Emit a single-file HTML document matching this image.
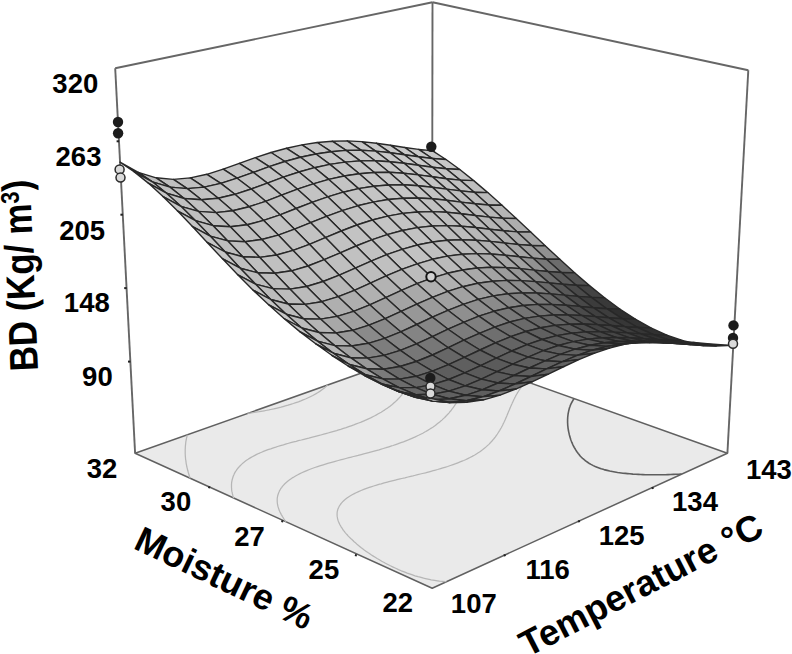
<!DOCTYPE html>
<html><head><meta charset="utf-8"><style>
html,body{margin:0;padding:0;background:#fff;overflow:hidden;}
svg{display:block;}
text{font-family:"Liberation Sans",sans-serif;font-weight:bold;fill:#000;}
</style></head><body>
<svg width="792" height="654" viewBox="0 0 792 654">
<polygon points="432.2,588.2 727.4,453.2 432.0,348.0 135.1,453.3" fill="#eaeaea" stroke="#606060" stroke-width="1.5" stroke-linejoin="round"/>
<polyline points="187.4,434.8 187.1,435.7 186.9,436.7 186.7,437.6 186.4,438.6 186.3,439.5 186.1,440.4 185.9,441.4 185.8,442.3 185.7,443.2 185.6,444.1 185.5,445.0 185.4,446.0 185.3,447.0 185.3,448.1 185.2,449.2 185.2,450.2 185.2,451.3 185.2,452.2 185.2,453.1 185.2,454.0 185.3,454.9 185.3,455.8 185.4,456.9 185.5,458.1 185.6,459.3 185.8,460.2 185.9,461.0 186.0,461.9 186.1,462.8 186.3,464.1 186.6,465.3 186.7,466.2 186.9,467.1 187.1,467.9 187.4,469.0 187.7,470.3 188.0,471.3 188.2,472.2 188.5,473.0 188.8,474.3 189.2,475.5 189.5,476.4 189.8,477.2 190.2,478.4 190.2,478.4" fill="none" stroke="#b6b6b6" stroke-width="1.25" stroke-linejoin="round"/>
<polyline points="327.6,385.0 326.3,386.3 325.6,386.9 324.7,387.7 323.4,388.7 322.6,389.3 321.0,390.5 320.2,391.1 318.4,392.2 317.6,392.8 315.7,393.9 314.2,394.7 312.8,395.5 310.8,396.5 308.7,397.5 307.6,398.0 305.4,399.0 303.1,399.9 300.8,400.9 298.4,401.8 295.9,402.6 293.3,403.5 290.7,404.3 288.0,405.2 285.3,405.9 283.9,406.3 281.1,407.1 278.2,407.8 276.1,408.3 273.7,408.9 270.6,409.5 269.0,409.9 265.8,410.5 264.2,410.8 260.9,411.4 259.2,411.7 255.8,412.2 254.1,412.5 251.5,412.9 248.8,413.2 247.5,413.4" fill="none" stroke="#b6b6b6" stroke-width="1.25" stroke-linejoin="round"/>
<polyline points="413.5,354.5 413.7,355.2 413.8,356.0 413.9,356.7 413.9,357.5 414.0,358.3 414.0,359.1 414.1,359.8 414.1,360.6 414.1,361.4 414.0,362.3 414.0,363.1 413.9,363.9 413.9,364.7 413.8,365.6 413.7,366.4 413.6,367.3 413.4,368.1 413.3,369.0 413.1,369.9 412.9,370.8 412.8,371.6 412.6,372.4 412.4,373.1 412.2,373.9 412.0,374.7 411.8,375.4 411.5,376.2 411.2,377.1 410.9,378.1 410.6,379.0 410.3,379.9 410.0,380.7 409.7,381.4 409.4,382.1 409.0,383.0 408.5,384.0 408.0,385.0 407.6,385.8 407.3,386.5 406.9,387.2 406.4,388.1 405.7,389.2 405.2,390.0 404.8,390.8 404.3,391.5 403.5,392.6 402.8,393.5 402.3,394.2 401.7,395.0 400.7,396.2 400.1,396.9 399.5,397.5 398.3,398.8 397.6,399.5 396.9,400.2 395.7,401.4 395.0,402.1 393.8,403.1 392.8,403.9 391.9,404.7 390.6,405.8 389.8,406.4 388.2,407.6 387.3,408.2 385.6,409.3 384.5,410.1 383.0,411.0 381.2,412.2 380.2,412.7 378.3,413.8 376.4,414.9 375.3,415.5 373.3,416.5 371.2,417.6 369.5,418.4 367.9,419.1 365.7,420.1 363.4,421.1 361.1,422.1 358.7,423.0 356.2,423.9 353.8,424.9 351.2,425.8 348.7,426.7 346.1,427.6 343.4,428.4 340.7,429.3 338.7,429.9 336.6,430.6 333.8,431.4 331.0,432.2 328.1,433.0 326.7,433.4 323.8,434.2 320.8,435.0 319.2,435.4 316.4,436.1 313.4,436.9 311.5,437.4 308.8,438.1 305.8,438.8 304.0,439.3 301.3,440.0 298.3,440.7 296.2,441.3 293.7,441.9 290.7,442.7 287.8,443.5 286.3,443.9 283.4,444.8 280.5,445.6 277.6,446.5 275.8,447.1 273.4,447.8 270.7,448.8 268.0,449.7 265.4,450.7 262.8,451.7 260.3,452.8 259.1,453.3 256.7,454.4 254.4,455.6 252.3,456.7 251.1,457.4 249.1,458.6 248.1,459.3 246.1,460.6 245.2,461.3 243.4,462.7 242.6,463.4 241.3,464.6 240.2,465.7 239.5,466.5 238.5,467.5 237.4,468.8 236.8,469.7 236.2,470.6 235.6,471.4 234.9,472.6 234.3,473.8 233.8,475.0 233.3,476.0 233.0,477.0 232.7,478.0 232.4,479.0 232.1,480.0 231.9,481.1 231.7,482.1 231.6,483.2 231.5,484.3 231.5,485.4 231.5,486.5 231.5,487.4 231.6,488.4 231.6,489.3 231.7,490.3 231.9,491.4 232.2,492.7 232.4,493.9 232.7,494.8 232.9,495.7 233.2,496.7 233.7,498.1 233.7,498.1" fill="none" stroke="#b6b6b6" stroke-width="1.25" stroke-linejoin="round"/>
<polyline points="479.2,364.8 478.3,365.8 477.6,366.6 477.1,367.2 476.4,368.2 475.6,369.1 475.2,369.7 474.6,370.5 473.8,371.6 473.4,372.3 472.9,373.0 472.4,373.8 471.7,374.9 471.3,375.6 470.9,376.3 470.4,377.1 469.8,378.2 469.3,379.0 468.9,379.7 468.5,380.4 468.0,381.4 467.4,382.5 467.0,383.2 466.7,383.9 466.3,384.6 465.7,385.7 465.2,386.7 464.9,387.4 464.5,388.1 464.1,388.9 463.5,390.0 463.0,391.0 462.7,391.7 462.3,392.4 461.8,393.3 461.3,394.4 460.8,395.3 460.4,396.0 460.0,396.7 459.4,397.7 458.8,398.9 458.4,399.6 458.0,400.3 457.4,401.2 456.7,402.3 456.2,403.1 455.8,403.8 455.2,404.7 454.4,405.9 453.9,406.6 453.4,407.3 452.6,408.4 451.8,409.4 451.3,410.1 450.6,411.0 449.6,412.2 449.1,412.8 448.3,413.7 447.2,414.8 446.6,415.5 445.6,416.5 444.7,417.5 444.0,418.1 442.6,419.4 441.9,420.1 440.5,421.3 439.7,422.0 438.3,423.0 437.3,423.8 435.9,424.9 434.9,425.7 433.2,426.9 432.3,427.5 430.5,428.6 429.5,429.3 427.7,430.4 425.8,431.5 424.8,432.0 422.8,433.2 420.7,434.2 418.6,435.3 417.5,435.8 415.3,436.9 413.0,437.9 410.7,438.9 408.3,439.9 405.9,440.8 403.4,441.8 400.9,442.7 398.3,443.7 395.7,444.6 393.0,445.5 391.6,445.9 388.9,446.8 386.1,447.7 383.3,448.5 380.5,449.3 379.0,449.8 376.1,450.6 373.2,451.4 371.4,451.9 368.7,452.6 365.7,453.4 363.7,453.9 361.2,454.6 358.1,455.4 356.3,455.8 353.5,456.5 350.5,457.3 348.9,457.7 345.9,458.5 342.8,459.3 341.3,459.7 338.2,460.5 335.2,461.3 333.5,461.8 330.7,462.6 327.7,463.4 324.8,464.3 323.3,464.8 320.5,465.7 317.6,466.6 314.8,467.5 312.1,468.5 309.4,469.5 306.8,470.6 304.3,471.6 301.8,472.8 299.5,473.9 298.3,474.5 296.0,475.7 293.9,477.0 292.8,477.6 290.8,478.9 289.6,479.8 288.0,481.0 287.1,481.8 285.4,483.3 284.6,484.0 283.6,485.1 282.4,486.4 281.8,487.3 281.1,488.1 280.4,489.3 279.6,490.6 279.1,491.8 278.7,492.7 278.3,493.7 278.0,494.7 277.7,495.7 277.5,496.8 277.3,497.9 277.2,499.0 277.2,500.1 277.2,501.3 277.3,502.5 277.4,503.7 277.6,504.6 277.8,505.6 278.0,506.5 278.3,507.6 278.8,509.0 279.2,510.2 279.6,511.1 280.0,512.0 280.7,513.4 281.3,514.6 281.8,515.4 282.5,516.6 283.4,518.0 283.9,518.8 284.8,520.1 285.7,521.3 286.2,521.9" fill="none" stroke="#b6b6b6" stroke-width="1.25" stroke-linejoin="round"/>
<polyline points="526.2,381.5 525.6,382.1 524.5,383.3 523.9,383.9 523.2,384.8 522.3,385.8 521.8,386.5 521.1,387.4 520.4,388.4 519.9,389.1 519.4,389.8 518.6,391.0 518.1,391.8 517.7,392.4 517.2,393.4 516.5,394.5 516.1,395.2 515.7,395.9 515.3,396.8 514.7,397.9 514.3,398.8 513.9,399.5 513.6,400.2 513.1,401.3 512.6,402.4 512.2,403.1 511.9,403.9 511.6,404.6 511.1,405.7 510.6,406.8 510.3,407.6 510.0,408.3 509.7,409.1 509.2,410.2 508.7,411.3 508.4,412.1 508.1,412.8 507.8,413.6 507.3,414.6 506.9,415.8 506.5,416.6 506.2,417.4 505.8,418.2 505.4,419.2 504.9,420.3 504.5,421.2 504.1,422.0 503.8,422.7 503.2,423.8 502.7,425.0 502.3,425.8 501.9,426.5 501.4,427.5 500.7,428.7 500.2,429.5 499.8,430.3 499.2,431.2 498.4,432.5 497.9,433.2 497.4,434.0 496.6,435.2 495.9,436.2 495.4,436.9 494.5,438.0 493.7,439.0 493.1,439.7 492.0,441.0 491.2,441.8 490.6,442.5 489.3,443.9 488.6,444.6 487.1,445.9 486.4,446.6 485.0,447.8 484.1,448.5 482.5,449.8 481.6,450.4 479.9,451.7 479.0,452.3 477.1,453.5 475.2,454.7 474.2,455.3 472.2,456.4 470.0,457.5 467.8,458.6 465.5,459.7 463.7,460.5 462.0,461.2 459.5,462.2 457.9,462.8 455.7,463.7 453.1,464.6 450.4,465.5 447.7,466.5 444.9,467.3 442.9,467.9 440.6,468.6 437.6,469.5 434.7,470.3 433.2,470.7 430.1,471.6 427.1,472.4 425.5,472.8 422.4,473.5 420.4,474.0 417.7,474.7 414.5,475.5 412.9,475.9 409.7,476.6 408.0,477.0 404.9,477.8 401.8,478.5 400.1,478.9 396.9,479.7 395.3,480.1 392.1,480.9 388.9,481.7 387.4,482.1 384.2,482.9 381.2,483.8 379.6,484.2 376.6,485.1 373.7,486.0 371.1,486.8 369.3,487.4 366.5,488.4 363.8,489.4 361.1,490.5 358.5,491.6 356.1,492.7 354.3,493.6 352.6,494.5 350.4,495.8 348.5,497.0 347.3,497.8 345.4,499.3 344.5,500.0 343.2,501.2 342.1,502.4 341.4,503.2 340.4,504.5 339.5,505.8 339.0,506.7 338.6,507.6 338.1,508.6 337.7,509.8 337.4,511.0 337.2,512.1 337.1,513.3 337.1,514.3 337.1,515.4 337.2,516.4 337.4,517.5 337.6,518.8 338.0,520.2 338.4,521.4 338.8,522.3 339.2,523.2 339.8,524.5 340.6,525.9 341.1,526.8 341.7,527.7 342.8,529.4 343.4,530.3 344.1,531.2 345.4,532.8 346.1,533.6 347.4,535.0 348.3,536.1 349.3,537.1 350.7,538.5 351.6,539.3 353.2,540.8 354.1,541.7 355.8,543.1 357.0,544.2 358.5,545.4 360.3,546.9 361.3,547.7 363.3,549.2 364.2,549.9 366.3,551.4 368.3,552.8 369.4,553.5 371.5,555.0 373.7,556.4 375.2,557.3 377.1,558.5 379.4,559.8 381.7,561.2 384.2,562.5 385.4,563.2 387.9,564.5 390.4,565.8 393.1,567.1 395.7,568.3 398.5,569.6 401.3,570.8 404.2,571.9 407.2,573.1 408.7,573.6 411.8,574.7 415.0,575.8 418.0,576.7 420.1,577.2 423.6,578.2 425.4,578.6 429.2,579.4 431.1,579.8 434.7,580.4 437.3,580.8 439.5,581.1 442.5,581.4 445.9,581.7 446.4,581.7" fill="none" stroke="#b6b6b6" stroke-width="1.25" stroke-linejoin="round"/>
<polyline points="574.1,398.6 573.4,399.5 572.8,400.6 572.4,401.3 572.0,402.0 571.4,403.1 570.9,404.1 570.6,404.8 570.3,405.6 570.0,406.5 569.6,407.6 569.3,408.6 569.1,409.3 568.9,410.1 568.7,410.9 568.5,411.9 568.3,412.9 568.1,414.0 568.0,414.9 567.9,415.7 567.8,416.5 567.7,417.4 567.7,418.2 567.6,419.1 567.6,420.0 567.6,421.0 567.6,421.9 567.6,422.9 567.7,423.9 567.7,424.8 567.8,425.8 567.9,426.7 568.0,427.7 568.1,428.6 568.3,429.5 568.4,430.5 568.6,431.4 568.8,432.3 569.0,433.2 569.2,434.1 569.4,435.0 569.7,436.0 569.9,436.9 570.2,437.7 570.5,438.7 570.8,439.7 571.2,440.8 571.6,441.8 572.1,442.9 572.5,443.9 572.9,444.8 573.3,445.6 573.7,446.5 574.2,447.4 574.9,448.5 575.6,449.7 576.2,450.6 576.7,451.5 577.3,452.3 578.2,453.5 579.1,454.6 579.7,455.4 580.4,456.2 581.9,457.7 582.6,458.4 583.6,459.2 585.1,460.5 586.0,461.2 587.9,462.5 588.9,463.2 591.0,464.4 593.3,465.6 595.2,466.5 597.0,467.2 599.7,468.2 601.2,468.8 604.0,469.6 607.2,470.4 609.7,471.0 612.2,471.5 614.9,472.0 617.6,472.5 619.5,472.7 622.9,473.2 625.4,473.4 627.5,473.6 629.8,473.8 632.9,474.1 635.9,474.3 638.3,474.4 640.6,474.5 642.9,474.6 645.3,474.7 647.7,474.7 650.1,474.7 652.6,474.8 655.1,474.8 657.6,474.8 660.1,474.8 662.7,474.7 665.3,474.7 668.0,474.6 670.6,474.5 673.4,474.4 676.1,474.3 678.6,474.2 680.8,474.1 681.6,474.1" fill="none" stroke="#5e5e5e" stroke-width="1.6" stroke-linejoin="round"/>
<line x1="432.0" y1="348.0" x2="432.5" y2="2.3" stroke="#666666" stroke-width="1.9"/>
<line x1="115.2" y1="68.2" x2="432.5" y2="2.3" stroke="#666666" stroke-width="1.9"/>
<line x1="748.3" y1="70.3" x2="432.5" y2="2.3" stroke="#666666" stroke-width="1.9"/>
<line x1="135.1" y1="453.3" x2="115.2" y2="68.2" stroke="#666666" stroke-width="1.9"/>
<line x1="727.4" y1="453.2" x2="748.3" y2="70.3" stroke="#666666" stroke-width="1.9"/>
<line x1="116.6" y1="141.3" x2="119.1" y2="141.3" stroke="#222" stroke-width="2"/>
<line x1="120.4" y1="214.7" x2="122.9" y2="214.7" stroke="#222" stroke-width="2"/>
<line x1="124.2" y1="288.1" x2="126.7" y2="288.1" stroke="#222" stroke-width="2"/>
<line x1="128.0" y1="361.6" x2="130.5" y2="361.6" stroke="#222" stroke-width="2"/>
<line x1="209.5" y1="486.2" x2="208.9" y2="488.2" stroke="#222" stroke-width="2"/>
<line x1="282.6" y1="520.2" x2="282.0" y2="522.2" stroke="#222" stroke-width="2"/>
<line x1="356.2" y1="554.3" x2="355.6" y2="556.3" stroke="#222" stroke-width="2"/>
<line x1="504.4" y1="554.3" x2="505.0" y2="556.3" stroke="#222" stroke-width="2"/>
<line x1="578.7" y1="520.2" x2="579.3" y2="522.2" stroke="#222" stroke-width="2"/>
<line x1="652.3" y1="487.0" x2="652.9" y2="489.0" stroke="#222" stroke-width="2"/>
<circle cx="431.5" cy="155.4" r="4.5" fill="#d4d4d4" stroke="#1c1c1c" stroke-width="1.6"/>
<polygon points="432.3,158.5 446.0,159.5 432.3,150.7 418.6,149.4" fill="rgb(200,200,200)" stroke="#282828" stroke-width="1.4" stroke-linejoin="round"/>
<polygon points="446.1,168.8 459.8,169.5 446.0,159.5 432.3,158.5" fill="rgb(198,198,198)" stroke="#282828" stroke-width="1.4" stroke-linejoin="round"/>
<polygon points="418.4,156.8 432.3,158.5 418.6,149.4 404.7,147.5" fill="rgb(201,201,201)" stroke="#282828" stroke-width="1.4" stroke-linejoin="round"/>
<polygon points="460.1,180.1 473.7,180.6 459.8,169.5 446.1,168.8" fill="rgb(195,195,195)" stroke="#282828" stroke-width="1.4" stroke-linejoin="round"/>
<polygon points="432.3,167.2 446.1,168.8 432.3,158.5 418.4,156.8" fill="rgb(199,199,199)" stroke="#282828" stroke-width="1.4" stroke-linejoin="round"/>
<polygon points="474.2,192.2 487.8,192.6 473.7,180.6 460.1,180.1" fill="rgb(191,191,191)" stroke="#282828" stroke-width="1.4" stroke-linejoin="round"/>
<polygon points="404.3,154.7 418.4,156.8 404.7,147.5 390.6,145.3" fill="rgb(201,201,201)" stroke="#282828" stroke-width="1.4" stroke-linejoin="round"/>
<polygon points="446.3,178.7 460.1,180.1 446.1,168.8 432.3,167.2" fill="rgb(196,196,196)" stroke="#282828" stroke-width="1.4" stroke-linejoin="round"/>
<polygon points="488.4,205.0 502.0,205.3 487.8,192.6 474.2,192.2" fill="rgb(186,186,186)" stroke="#282828" stroke-width="1.4" stroke-linejoin="round"/>
<polygon points="418.3,165.3 432.3,167.2 418.4,156.8 404.3,154.7" fill="rgb(200,200,200)" stroke="#282828" stroke-width="1.4" stroke-linejoin="round"/>
<polygon points="460.4,190.9 474.2,192.2 460.1,180.1 446.3,178.7" fill="rgb(193,193,193)" stroke="#282828" stroke-width="1.4" stroke-linejoin="round"/>
<polygon points="390.1,152.7 404.3,154.7 390.6,145.3 376.3,143.2" fill="rgb(201,201,201)" stroke="#282828" stroke-width="1.4" stroke-linejoin="round"/>
<polygon points="502.7,218.3 516.3,218.5 502.0,205.3 488.4,205.0" fill="rgb(181,181,181)" stroke="#282828" stroke-width="1.4" stroke-linejoin="round"/>
<polygon points="432.3,176.8 446.3,178.7 432.3,167.2 418.3,165.3" fill="rgb(197,197,197)" stroke="#282828" stroke-width="1.4" stroke-linejoin="round"/>
<polygon points="474.7,203.8 488.4,205.0 474.2,192.2 460.4,190.9" fill="rgb(188,188,188)" stroke="#282828" stroke-width="1.4" stroke-linejoin="round"/>
<polygon points="404.0,163.3 418.3,165.3 404.3,154.7 390.1,152.7" fill="rgb(201,201,201)" stroke="#282828" stroke-width="1.4" stroke-linejoin="round"/>
<polygon points="517.2,231.9 530.7,232.0 516.3,218.5 502.7,218.3" fill="rgb(173,173,173)" stroke="#282828" stroke-width="1.4" stroke-linejoin="round"/>
<polygon points="446.5,189.1 460.4,190.9 446.3,178.7 432.3,176.8" fill="rgb(194,194,194)" stroke="#282828" stroke-width="1.4" stroke-linejoin="round"/>
<polygon points="375.6,151.1 390.1,152.7 376.3,143.2 361.8,141.6" fill="rgb(200,200,200)" stroke="#282828" stroke-width="1.4" stroke-linejoin="round"/>
<polygon points="489.1,217.1 502.7,218.3 488.4,205.0 474.7,203.8" fill="rgb(183,183,183)" stroke="#282828" stroke-width="1.4" stroke-linejoin="round"/>
<polygon points="418.1,174.9 432.3,176.8 418.3,165.3 404.0,163.3" fill="rgb(199,199,199)" stroke="#282828" stroke-width="1.4" stroke-linejoin="round"/>
<polygon points="531.7,245.5 545.2,245.7 530.7,232.0 517.2,231.9" fill="rgb(165,165,165)" stroke="#282828" stroke-width="1.4" stroke-linejoin="round"/>
<polygon points="460.8,202.1 474.7,203.8 460.4,190.9 446.5,189.1" fill="rgb(190,190,190)" stroke="#282828" stroke-width="1.4" stroke-linejoin="round"/>
<polygon points="389.6,161.7 404.0,163.3 390.1,152.7 375.6,151.1" fill="rgb(200,200,200)" stroke="#282828" stroke-width="1.4" stroke-linejoin="round"/>
<polygon points="503.5,230.8 517.2,231.9 502.7,218.3 489.1,217.1" fill="rgb(177,177,177)" stroke="#282828" stroke-width="1.4" stroke-linejoin="round"/>
<polygon points="432.3,187.2 446.5,189.1 432.3,176.8 418.1,174.9" fill="rgb(196,196,196)" stroke="#282828" stroke-width="1.4" stroke-linejoin="round"/>
<polygon points="546.4,259.2 559.8,259.3 545.2,245.7 531.7,245.5" fill="rgb(145,145,145)" stroke="#282828" stroke-width="1.4" stroke-linejoin="round"/>
<polygon points="361.0,150.2 375.6,151.1 361.8,141.6 347.1,140.9" fill="rgb(199,199,199)" stroke="#282828" stroke-width="1.4" stroke-linejoin="round"/>
<polygon points="475.2,215.5 489.1,217.1 474.7,203.8 460.8,202.1" fill="rgb(186,186,186)" stroke="#282828" stroke-width="1.4" stroke-linejoin="round"/>
<polygon points="403.7,173.2 418.1,174.9 404.0,163.3 389.6,161.7" fill="rgb(200,200,200)" stroke="#282828" stroke-width="1.4" stroke-linejoin="round"/>
<polygon points="518.1,244.5 531.7,245.5 517.2,231.9 503.5,230.8" fill="rgb(169,169,169)" stroke="#282828" stroke-width="1.4" stroke-linejoin="round"/>
<polygon points="446.7,200.3 460.8,202.1 446.5,189.1 432.3,187.2" fill="rgb(193,193,193)" stroke="#282828" stroke-width="1.4" stroke-linejoin="round"/>
<polygon points="561.3,272.5 574.6,272.7 559.8,259.3 546.4,259.2" fill="rgb(108,108,108)" stroke="#282828" stroke-width="1.4" stroke-linejoin="round"/>
<polygon points="375.0,160.8 389.6,161.7 375.6,151.1 361.0,150.2" fill="rgb(200,200,200)" stroke="#282828" stroke-width="1.4" stroke-linejoin="round"/>
<polygon points="489.7,229.2 503.5,230.8 489.1,217.1 475.2,215.5" fill="rgb(181,181,181)" stroke="#282828" stroke-width="1.4" stroke-linejoin="round"/>
<polygon points="346.1,150.4 361.0,150.2 347.1,140.9 332.2,141.2" fill="rgb(198,198,198)" stroke="#282828" stroke-width="1.4" stroke-linejoin="round"/>
<polygon points="418.0,185.7 432.3,187.2 418.1,174.9 403.7,173.2" fill="rgb(197,197,197)" stroke="#282828" stroke-width="1.4" stroke-linejoin="round"/>
<polygon points="532.9,258.1 546.4,259.2 531.7,245.5 518.1,244.5" fill="rgb(156,156,156)" stroke="#282828" stroke-width="1.4" stroke-linejoin="round"/>
<polygon points="461.1,213.8 475.2,215.5 460.8,202.1 446.7,200.3" fill="rgb(189,189,189)" stroke="#282828" stroke-width="1.4" stroke-linejoin="round"/>
<polygon points="576.2,285.3 589.5,285.6 574.6,272.7 561.3,272.5" fill="rgb(84,84,84)" stroke="#282828" stroke-width="1.4" stroke-linejoin="round"/>
<polygon points="389.1,172.3 403.7,173.2 389.6,161.7 375.0,160.8" fill="rgb(199,199,199)" stroke="#282828" stroke-width="1.4" stroke-linejoin="round"/>
<polygon points="504.4,243.0 518.1,244.5 503.5,230.8 489.7,229.2" fill="rgb(174,174,174)" stroke="#282828" stroke-width="1.4" stroke-linejoin="round"/>
<polygon points="547.8,271.5 561.3,272.5 546.4,259.2 532.9,258.1" fill="rgb(121,121,121)" stroke="#282828" stroke-width="1.4" stroke-linejoin="round"/>
<polygon points="432.3,198.7 446.7,200.3 432.3,187.2 418.0,185.7" fill="rgb(194,194,194)" stroke="#282828" stroke-width="1.4" stroke-linejoin="round"/>
<polygon points="360.2,160.9 375.0,160.8 361.0,150.2 346.1,150.4" fill="rgb(198,198,198)" stroke="#282828" stroke-width="1.4" stroke-linejoin="round"/>
<polygon points="475.7,227.5 489.7,229.2 475.2,215.5 461.1,213.8" fill="rgb(185,185,185)" stroke="#282828" stroke-width="1.4" stroke-linejoin="round"/>
<polygon points="591.4,297.4 604.6,297.7 589.5,285.6 576.2,285.3" fill="rgb(67,67,67)" stroke="#282828" stroke-width="1.4" stroke-linejoin="round"/>
<polygon points="331.1,151.7 346.1,150.4 332.2,141.2 317.2,142.5" fill="rgb(197,197,197)" stroke="#282828" stroke-width="1.4" stroke-linejoin="round"/>
<polygon points="403.4,184.8 418.0,185.7 403.7,173.2 389.1,172.3" fill="rgb(198,198,198)" stroke="#282828" stroke-width="1.4" stroke-linejoin="round"/>
<polygon points="519.1,256.7 532.9,258.1 518.1,244.5 504.4,243.0" fill="rgb(166,166,166)" stroke="#282828" stroke-width="1.4" stroke-linejoin="round"/>
<polygon points="446.8,212.3 461.1,213.8 446.7,200.3 432.3,198.7" fill="rgb(191,191,191)" stroke="#282828" stroke-width="1.4" stroke-linejoin="round"/>
<polygon points="562.8,284.3 576.2,285.3 561.3,272.5 547.8,271.5" fill="rgb(92,92,92)" stroke="#282828" stroke-width="1.4" stroke-linejoin="round"/>
<polygon points="374.3,172.5 389.1,172.3 375.0,160.8 360.2,160.9" fill="rgb(199,199,199)" stroke="#282828" stroke-width="1.4" stroke-linejoin="round"/>
<polygon points="490.4,241.4 504.4,243.0 489.7,229.2 475.7,227.5" fill="rgb(179,179,179)" stroke="#282828" stroke-width="1.4" stroke-linejoin="round"/>
<polygon points="606.7,308.7 619.8,309.0 604.6,297.7 591.4,297.4" fill="rgb(57,57,57)" stroke="#282828" stroke-width="1.4" stroke-linejoin="round"/>
<polygon points="417.8,198.0 432.3,198.7 418.0,185.7 403.4,184.8" fill="rgb(196,196,196)" stroke="#282828" stroke-width="1.4" stroke-linejoin="round"/>
<polygon points="345.1,162.1 360.2,160.9 346.1,150.4 331.1,151.7" fill="rgb(197,197,197)" stroke="#282828" stroke-width="1.4" stroke-linejoin="round"/>
<polygon points="534.1,270.1 547.8,271.5 532.9,258.1 519.1,256.7" fill="rgb(146,146,146)" stroke="#282828" stroke-width="1.4" stroke-linejoin="round"/>
<polygon points="461.4,226.2 475.7,227.5 461.1,213.8 446.8,212.3" fill="rgb(188,188,188)" stroke="#282828" stroke-width="1.4" stroke-linejoin="round"/>
<polygon points="315.9,154.0 331.1,151.7 317.2,142.5 302.0,144.9" fill="rgb(197,197,197)" stroke="#282828" stroke-width="1.4" stroke-linejoin="round"/>
<polygon points="577.9,296.4 591.4,297.4 576.2,285.3 562.8,284.3" fill="rgb(74,74,74)" stroke="#282828" stroke-width="1.4" stroke-linejoin="round"/>
<polygon points="388.6,185.0 403.4,184.8 389.1,172.3 374.3,172.5" fill="rgb(198,198,198)" stroke="#282828" stroke-width="1.4" stroke-linejoin="round"/>
<polygon points="505.2,255.2 519.1,256.7 504.4,243.0 490.4,241.4" fill="rgb(172,172,172)" stroke="#282828" stroke-width="1.4" stroke-linejoin="round"/>
<polygon points="622.1,318.7 635.3,319.1 619.8,309.0 606.7,308.7" fill="rgb(47,47,47)" stroke="#282828" stroke-width="1.4" stroke-linejoin="round"/>
<polygon points="432.3,211.6 446.8,212.3 432.3,198.7 417.8,198.0" fill="rgb(193,193,193)" stroke="#282828" stroke-width="1.4" stroke-linejoin="round"/>
<polygon points="549.1,282.9 562.8,284.3 547.8,271.5 534.1,270.1" fill="rgb(111,111,111)" stroke="#282828" stroke-width="1.4" stroke-linejoin="round"/>
<polygon points="359.3,173.7 374.3,172.5 360.2,160.9 345.1,162.1" fill="rgb(197,197,197)" stroke="#282828" stroke-width="1.4" stroke-linejoin="round"/>
<polygon points="476.2,240.2 490.4,241.4 475.7,227.5 461.4,226.2" fill="rgb(183,183,183)" stroke="#282828" stroke-width="1.4" stroke-linejoin="round"/>
<polygon points="593.3,307.7 606.7,308.7 591.4,297.4 577.9,296.4" fill="rgb(60,60,60)" stroke="#282828" stroke-width="1.4" stroke-linejoin="round"/>
<polygon points="329.9,164.4 345.1,162.1 331.1,151.7 315.9,154.0" fill="rgb(197,197,197)" stroke="#282828" stroke-width="1.4" stroke-linejoin="round"/>
<polygon points="403.1,198.2 417.8,198.0 403.4,184.8 388.6,185.0" fill="rgb(197,197,197)" stroke="#282828" stroke-width="1.4" stroke-linejoin="round"/>
<polygon points="520.2,268.6 534.1,270.1 519.1,256.7 505.2,255.2" fill="rgb(161,161,161)" stroke="#282828" stroke-width="1.4" stroke-linejoin="round"/>
<polygon points="300.5,157.3 315.9,154.0 302.0,144.9 286.6,148.3" fill="rgb(197,197,197)" stroke="#282828" stroke-width="1.4" stroke-linejoin="round"/>
<polygon points="447.0,225.6 461.4,226.2 446.8,212.3 432.3,211.6" fill="rgb(190,190,190)" stroke="#282828" stroke-width="1.4" stroke-linejoin="round"/>
<polygon points="564.4,295.1 577.9,296.4 562.8,284.3 549.1,282.9" fill="rgb(88,88,88)" stroke="#282828" stroke-width="1.4" stroke-linejoin="round"/>
<polygon points="373.7,186.2 388.6,185.0 374.3,172.5 359.3,173.7" fill="rgb(198,198,198)" stroke="#282828" stroke-width="1.4" stroke-linejoin="round"/>
<polygon points="637.8,327.5 650.9,327.9 635.3,319.1 622.1,318.7" fill="rgb(51,51,51)" stroke="#282828" stroke-width="1.4" stroke-linejoin="round"/>
<polygon points="491.1,254.0 505.2,255.2 490.4,241.4 476.2,240.2" fill="rgb(177,177,177)" stroke="#282828" stroke-width="1.4" stroke-linejoin="round"/>
<polygon points="344.2,176.0 359.3,173.7 345.1,162.1 329.9,164.4" fill="rgb(196,196,196)" stroke="#282828" stroke-width="1.4" stroke-linejoin="round"/>
<polygon points="417.7,212.0 432.3,211.6 417.8,198.0 403.1,198.2" fill="rgb(195,195,195)" stroke="#282828" stroke-width="1.4" stroke-linejoin="round"/>
<polygon points="608.8,317.8 622.1,318.7 606.7,308.7 593.3,307.7" fill="rgb(61,61,61)" stroke="#282828" stroke-width="1.4" stroke-linejoin="round"/>
<polygon points="535.3,281.6 549.1,282.9 534.1,270.1 520.2,268.6" fill="rgb(136,136,136)" stroke="#282828" stroke-width="1.4" stroke-linejoin="round"/>
<polygon points="461.8,239.7 476.2,240.2 461.4,226.2 447.0,225.6" fill="rgb(187,187,187)" stroke="#282828" stroke-width="1.4" stroke-linejoin="round"/>
<polygon points="314.6,167.7 329.9,164.4 315.9,154.0 300.5,157.3" fill="rgb(196,196,196)" stroke="#282828" stroke-width="1.4" stroke-linejoin="round"/>
<polygon points="388.2,199.5 403.1,198.2 388.6,185.0 373.7,186.2" fill="rgb(197,197,197)" stroke="#282828" stroke-width="1.4" stroke-linejoin="round"/>
<polygon points="579.8,306.4 593.3,307.7 577.9,296.4 564.4,295.1" fill="rgb(72,72,72)" stroke="#282828" stroke-width="1.4" stroke-linejoin="round"/>
<polygon points="284.9,161.5 300.5,157.3 286.6,148.3 271.0,152.5" fill="rgb(196,196,196)" stroke="#282828" stroke-width="1.4" stroke-linejoin="round"/>
<polygon points="506.1,267.6 520.2,268.6 505.2,255.2 491.1,254.0" fill="rgb(166,166,166)" stroke="#282828" stroke-width="1.4" stroke-linejoin="round"/>
<polygon points="653.8,334.8 666.8,335.1 650.9,327.9 637.8,327.5" fill="rgb(49,49,49)" stroke="#282828" stroke-width="1.4" stroke-linejoin="round"/>
<polygon points="432.3,226.0 447.0,225.6 432.3,211.6 417.7,212.0" fill="rgb(192,192,192)" stroke="#282828" stroke-width="1.4" stroke-linejoin="round"/>
<polygon points="358.5,188.6 373.7,186.2 359.3,173.7 344.2,176.0" fill="rgb(197,197,197)" stroke="#282828" stroke-width="1.4" stroke-linejoin="round"/>
<polygon points="550.6,293.9 564.4,295.1 549.1,282.9 535.3,281.6" fill="rgb(107,107,107)" stroke="#282828" stroke-width="1.4" stroke-linejoin="round"/>
<polygon points="624.6,326.6 637.8,327.5 622.1,318.7 608.8,317.8" fill="rgb(55,55,55)" stroke="#282828" stroke-width="1.4" stroke-linejoin="round"/>
<polygon points="476.7,253.6 491.1,254.0 476.2,240.2 461.8,239.7" fill="rgb(181,181,181)" stroke="#282828" stroke-width="1.4" stroke-linejoin="round"/>
<polygon points="328.8,179.4 344.2,176.0 329.9,164.4 314.6,167.7" fill="rgb(196,196,196)" stroke="#282828" stroke-width="1.4" stroke-linejoin="round"/>
<polygon points="402.8,213.4 417.7,212.0 403.1,198.2 388.2,199.5" fill="rgb(195,195,195)" stroke="#282828" stroke-width="1.4" stroke-linejoin="round"/>
<polygon points="595.3,316.6 608.8,317.8 593.3,307.7 579.8,306.4" fill="rgb(64,64,64)" stroke="#282828" stroke-width="1.4" stroke-linejoin="round"/>
<polygon points="521.2,280.6 535.3,281.6 520.2,268.6 506.1,267.6" fill="rgb(152,152,152)" stroke="#282828" stroke-width="1.4" stroke-linejoin="round"/>
<polygon points="299.0,172.0 314.6,167.7 300.5,157.3 284.9,161.5" fill="rgb(196,196,196)" stroke="#282828" stroke-width="1.4" stroke-linejoin="round"/>
<polygon points="447.2,240.2 461.8,239.7 447.0,225.6 432.3,226.0" fill="rgb(190,190,190)" stroke="#282828" stroke-width="1.4" stroke-linejoin="round"/>
<polygon points="269.2,166.6 284.9,161.5 271.0,152.5 255.3,157.6" fill="rgb(196,196,196)" stroke="#282828" stroke-width="1.4" stroke-linejoin="round"/>
<polygon points="373.0,202.1 388.2,199.5 373.7,186.2 358.5,188.6" fill="rgb(196,196,196)" stroke="#282828" stroke-width="1.4" stroke-linejoin="round"/>
<polygon points="670.0,340.3 683.0,340.7 666.8,335.1 653.8,334.8" fill="rgb(47,47,47)" stroke="#282828" stroke-width="1.4" stroke-linejoin="round"/>
<polygon points="566.0,305.2 579.8,306.4 564.4,295.1 550.6,293.9" fill="rgb(89,89,89)" stroke="#282828" stroke-width="1.4" stroke-linejoin="round"/>
<polygon points="491.8,267.3 506.1,267.6 491.1,254.0 476.7,253.6" fill="rgb(172,172,172)" stroke="#282828" stroke-width="1.4" stroke-linejoin="round"/>
<polygon points="640.6,333.9 653.8,334.8 637.8,327.5 624.6,326.6" fill="rgb(54,54,54)" stroke="#282828" stroke-width="1.4" stroke-linejoin="round"/>
<polygon points="343.2,192.2 358.5,188.6 344.2,176.0 328.8,179.4" fill="rgb(196,196,196)" stroke="#282828" stroke-width="1.4" stroke-linejoin="round"/>
<polygon points="417.5,227.6 432.3,226.0 417.7,212.0 402.8,213.4" fill="rgb(194,194,194)" stroke="#282828" stroke-width="1.4" stroke-linejoin="round"/>
<polygon points="536.6,293.0 550.6,293.9 535.3,281.6 521.2,280.6" fill="rgb(128,128,128)" stroke="#282828" stroke-width="1.4" stroke-linejoin="round"/>
<polygon points="611.1,325.5 624.6,326.6 608.8,317.8 595.3,316.6" fill="rgb(61,61,61)" stroke="#282828" stroke-width="1.4" stroke-linejoin="round"/>
<polygon points="313.3,183.8 328.8,179.4 314.6,167.7 299.0,172.0" fill="rgb(195,195,195)" stroke="#282828" stroke-width="1.4" stroke-linejoin="round"/>
<polygon points="462.1,254.3 476.7,253.6 461.8,239.7 447.2,240.2" fill="rgb(186,186,186)" stroke="#282828" stroke-width="1.4" stroke-linejoin="round"/>
<polygon points="387.7,216.1 402.8,213.4 388.2,199.5 373.0,202.1" fill="rgb(196,196,196)" stroke="#282828" stroke-width="1.4" stroke-linejoin="round"/>
<polygon points="283.3,177.2 299.0,172.0 284.9,161.5 269.2,166.6" fill="rgb(196,196,196)" stroke="#282828" stroke-width="1.4" stroke-linejoin="round"/>
<polygon points="581.6,315.5 595.3,316.6 579.8,306.4 566.0,305.2" fill="rgb(74,74,74)" stroke="#282828" stroke-width="1.4" stroke-linejoin="round"/>
<polygon points="507.0,280.4 521.2,280.6 506.1,267.6 491.8,267.3" fill="rgb(157,157,157)" stroke="#282828" stroke-width="1.4" stroke-linejoin="round"/>
<polygon points="253.3,172.4 269.2,166.6 255.3,157.6 239.3,163.3" fill="rgb(196,196,196)" stroke="#282828" stroke-width="1.4" stroke-linejoin="round"/>
<polygon points="686.5,343.9 699.4,344.4 683.0,340.7 670.0,340.3" fill="rgb(43,43,43)" stroke="#282828" stroke-width="1.4" stroke-linejoin="round"/>
<polygon points="432.4,242.0 447.2,240.2 432.3,226.0 417.5,227.6" fill="rgb(192,192,192)" stroke="#282828" stroke-width="1.4" stroke-linejoin="round"/>
<polygon points="357.7,205.8 373.0,202.1 358.5,188.6 343.2,192.2" fill="rgb(196,196,196)" stroke="#282828" stroke-width="1.4" stroke-linejoin="round"/>
<polygon points="656.8,339.5 670.0,340.3 653.8,334.8 640.6,333.9" fill="rgb(50,50,50)" stroke="#282828" stroke-width="1.4" stroke-linejoin="round"/>
<polygon points="552.0,304.5 566.0,305.2 550.6,293.9 536.6,293.0" fill="rgb(106,106,106)" stroke="#282828" stroke-width="1.4" stroke-linejoin="round"/>
<polygon points="327.7,196.8 343.2,192.2 328.8,179.4 313.3,183.8" fill="rgb(195,195,195)" stroke="#282828" stroke-width="1.4" stroke-linejoin="round"/>
<polygon points="477.2,268.0 491.8,267.3 476.7,253.6 462.1,254.3" fill="rgb(177,177,177)" stroke="#282828" stroke-width="1.4" stroke-linejoin="round"/>
<polygon points="402.4,230.5 417.5,227.6 402.8,213.4 387.7,216.1" fill="rgb(195,195,195)" stroke="#282828" stroke-width="1.4" stroke-linejoin="round"/>
<polygon points="627.1,332.9 640.6,333.9 624.6,326.6 611.1,325.5" fill="rgb(61,61,61)" stroke="#282828" stroke-width="1.4" stroke-linejoin="round"/>
<polygon points="297.5,189.2 313.3,183.8 299.0,172.0 283.3,177.2" fill="rgb(195,195,195)" stroke="#282828" stroke-width="1.4" stroke-linejoin="round"/>
<polygon points="522.3,292.9 536.6,293.0 521.2,280.6 507.0,280.4" fill="rgb(140,140,140)" stroke="#282828" stroke-width="1.4" stroke-linejoin="round"/>
<polygon points="447.4,256.1 462.1,254.3 447.2,240.2 432.4,242.0" fill="rgb(189,189,189)" stroke="#282828" stroke-width="1.4" stroke-linejoin="round"/>
<polygon points="372.4,220.0 387.7,216.1 373.0,202.1 357.7,205.8" fill="rgb(196,196,196)" stroke="#282828" stroke-width="1.4" stroke-linejoin="round"/>
<polygon points="597.5,324.6 611.1,325.5 595.3,316.6 581.6,315.5" fill="rgb(65,65,65)" stroke="#282828" stroke-width="1.4" stroke-linejoin="round"/>
<polygon points="267.4,183.1 283.3,177.2 269.2,166.6 253.3,172.4" fill="rgb(195,195,195)" stroke="#282828" stroke-width="1.4" stroke-linejoin="round"/>
<polygon points="237.1,178.2 253.3,172.4 239.3,163.3 223.2,169.2" fill="rgb(195,195,195)" stroke="#282828" stroke-width="1.4" stroke-linejoin="round"/>
<polygon points="703.2,345.5 716.2,346.0 699.4,344.4 686.5,343.9" fill="rgb(39,39,39)" stroke="#282828" stroke-width="1.4" stroke-linejoin="round"/>
<polygon points="342.2,210.6 357.7,205.8 343.2,192.2 327.7,196.8" fill="rgb(195,195,195)" stroke="#282828" stroke-width="1.4" stroke-linejoin="round"/>
<polygon points="492.5,281.2 507.0,280.4 491.8,267.3 477.2,268.0" fill="rgb(163,163,163)" stroke="#282828" stroke-width="1.4" stroke-linejoin="round"/>
<polygon points="567.7,314.9 581.6,315.5 566.0,305.2 552.0,304.5" fill="rgb(90,90,90)" stroke="#282828" stroke-width="1.4" stroke-linejoin="round"/>
<polygon points="417.3,245.0 432.4,242.0 417.5,227.6 402.4,230.5" fill="rgb(194,194,194)" stroke="#282828" stroke-width="1.4" stroke-linejoin="round"/>
<polygon points="673.3,343.1 686.5,343.9 670.0,340.3 656.8,339.5" fill="rgb(47,47,47)" stroke="#282828" stroke-width="1.4" stroke-linejoin="round"/>
<polygon points="312.0,202.3 327.7,196.8 313.3,183.8 297.5,189.2" fill="rgb(195,195,195)" stroke="#282828" stroke-width="1.4" stroke-linejoin="round"/>
<polygon points="643.4,338.6 656.8,339.5 640.6,333.9 627.1,332.9" fill="rgb(56,56,56)" stroke="#282828" stroke-width="1.4" stroke-linejoin="round"/>
<polygon points="462.5,270.0 477.2,268.0 462.1,254.3 447.4,256.1" fill="rgb(182,182,182)" stroke="#282828" stroke-width="1.4" stroke-linejoin="round"/>
<polygon points="387.2,234.6 402.4,230.5 387.7,216.1 372.4,220.0" fill="rgb(196,196,196)" stroke="#282828" stroke-width="1.4" stroke-linejoin="round"/>
<polygon points="537.9,304.4 552.0,304.5 536.6,293.0 522.3,292.9" fill="rgb(120,120,120)" stroke="#282828" stroke-width="1.4" stroke-linejoin="round"/>
<polygon points="281.6,195.2 297.5,189.2 283.3,177.2 267.4,183.1" fill="rgb(195,195,195)" stroke="#282828" stroke-width="1.4" stroke-linejoin="round"/>
<polygon points="613.5,332.1 627.1,332.9 611.1,325.5 597.5,324.6" fill="rgb(65,65,65)" stroke="#282828" stroke-width="1.4" stroke-linejoin="round"/>
<polygon points="251.3,189.0 267.4,183.1 253.3,172.4 237.1,178.2" fill="rgb(195,195,195)" stroke="#282828" stroke-width="1.4" stroke-linejoin="round"/>
<polygon points="356.9,225.0 372.4,220.0 357.7,205.8 342.2,210.6" fill="rgb(195,195,195)" stroke="#282828" stroke-width="1.4" stroke-linejoin="round"/>
<polygon points="432.4,259.3 447.4,256.1 432.4,242.0 417.3,245.0" fill="rgb(192,192,192)" stroke="#282828" stroke-width="1.4" stroke-linejoin="round"/>
<polygon points="507.9,293.8 522.3,292.9 507.0,280.4 492.5,281.2" fill="rgb(145,145,145)" stroke="#282828" stroke-width="1.4" stroke-linejoin="round"/>
<polygon points="220.8,183.4 237.1,178.2 223.2,169.2 206.9,174.3" fill="rgb(194,194,194)" stroke="#282828" stroke-width="1.4" stroke-linejoin="round"/>
<polygon points="583.6,324.0 597.5,324.6 581.6,315.5 567.7,314.9" fill="rgb(76,76,76)" stroke="#282828" stroke-width="1.4" stroke-linejoin="round"/>
<polygon points="326.5,216.3 342.2,210.6 327.7,196.8 312.0,202.3" fill="rgb(195,195,195)" stroke="#282828" stroke-width="1.4" stroke-linejoin="round"/>
<polygon points="402.1,249.3 417.3,245.0 402.4,230.5 387.2,234.6" fill="rgb(195,195,195)" stroke="#282828" stroke-width="1.4" stroke-linejoin="round"/>
<polygon points="720.4,344.7 733.3,345.4 716.2,346.0 703.2,345.5" fill="rgb(39,39,39)" stroke="#282828" stroke-width="1.4" stroke-linejoin="round"/>
<polygon points="477.8,283.3 492.5,281.2 477.2,268.0 462.5,270.0" fill="rgb(169,169,169)" stroke="#282828" stroke-width="1.4" stroke-linejoin="round"/>
<polygon points="690.1,344.6 703.2,345.5 686.5,343.9 673.3,343.1" fill="rgb(42,42,42)" stroke="#282828" stroke-width="1.4" stroke-linejoin="round"/>
<polygon points="553.6,315.0 567.7,314.9 552.0,304.5 537.9,304.4" fill="rgb(103,103,103)" stroke="#282828" stroke-width="1.4" stroke-linejoin="round"/>
<polygon points="296.1,208.5 312.0,202.3 297.5,189.2 281.6,195.2" fill="rgb(194,194,194)" stroke="#282828" stroke-width="1.4" stroke-linejoin="round"/>
<polygon points="660.0,342.2 673.3,343.1 656.8,339.5 643.4,338.6" fill="rgb(50,50,50)" stroke="#282828" stroke-width="1.4" stroke-linejoin="round"/>
<polygon points="371.7,239.8 387.2,234.6 372.4,220.0 356.9,225.0" fill="rgb(196,196,196)" stroke="#282828" stroke-width="1.4" stroke-linejoin="round"/>
<polygon points="447.5,273.3 462.5,270.0 447.4,256.1 432.4,259.3" fill="rgb(187,187,187)" stroke="#282828" stroke-width="1.4" stroke-linejoin="round"/>
<polygon points="265.6,201.3 281.6,195.2 267.4,183.1 251.3,189.0" fill="rgb(195,195,195)" stroke="#282828" stroke-width="1.4" stroke-linejoin="round"/>
<polygon points="629.8,337.8 643.4,338.6 627.1,332.9 613.5,332.1" fill="rgb(65,65,65)" stroke="#282828" stroke-width="1.4" stroke-linejoin="round"/>
<polygon points="523.4,305.5 537.9,304.4 522.3,292.9 507.9,293.8" fill="rgb(129,129,129)" stroke="#282828" stroke-width="1.4" stroke-linejoin="round"/>
<polygon points="234.9,194.3 251.3,189.0 237.1,178.2 220.8,183.4" fill="rgb(194,194,194)" stroke="#282828" stroke-width="1.4" stroke-linejoin="round"/>
<polygon points="341.3,231.0 356.9,225.0 342.2,210.6 326.5,216.3" fill="rgb(195,195,195)" stroke="#282828" stroke-width="1.4" stroke-linejoin="round"/>
<polygon points="599.7,331.6 613.5,332.1 597.5,324.6 583.6,324.0" fill="rgb(66,66,66)" stroke="#282828" stroke-width="1.4" stroke-linejoin="round"/>
<polygon points="417.2,263.8 432.4,259.3 417.3,245.0 402.1,249.3" fill="rgb(194,194,194)" stroke="#282828" stroke-width="1.4" stroke-linejoin="round"/>
<polygon points="204.2,187.1 220.8,183.4 206.9,174.3 190.3,177.9" fill="rgb(193,193,193)" stroke="#282828" stroke-width="1.4" stroke-linejoin="round"/>
<polygon points="493.2,295.9 507.9,293.8 492.5,281.2 477.8,283.3" fill="rgb(152,152,152)" stroke="#282828" stroke-width="1.4" stroke-linejoin="round"/>
<polygon points="310.7,222.7 326.5,216.3 312.0,202.3 296.1,208.5" fill="rgb(194,194,194)" stroke="#282828" stroke-width="1.4" stroke-linejoin="round"/>
<polygon points="569.5,324.2 583.6,324.0 567.7,314.9 553.6,315.0" fill="rgb(91,91,91)" stroke="#282828" stroke-width="1.4" stroke-linejoin="round"/>
<polygon points="386.7,254.7 402.1,249.3 387.2,234.6 371.7,239.8" fill="rgb(195,195,195)" stroke="#282828" stroke-width="1.4" stroke-linejoin="round"/>
<polygon points="462.8,286.7 477.8,283.3 462.5,270.0 447.5,273.3" fill="rgb(174,174,174)" stroke="#282828" stroke-width="1.4" stroke-linejoin="round"/>
<polygon points="280.0,214.8 296.1,208.5 281.6,195.2 265.6,201.3" fill="rgb(194,194,194)" stroke="#282828" stroke-width="1.4" stroke-linejoin="round"/>
<polygon points="707.3,343.6 720.4,344.7 703.2,345.5 690.1,344.6" fill="rgb(39,39,39)" stroke="#282828" stroke-width="1.4" stroke-linejoin="round"/>
<polygon points="539.2,316.1 553.6,315.0 537.9,304.4 523.4,305.5" fill="rgb(112,112,112)" stroke="#282828" stroke-width="1.4" stroke-linejoin="round"/>
<polygon points="676.8,343.6 690.1,344.6 673.3,343.1 660.0,342.2" fill="rgb(46,46,46)" stroke="#282828" stroke-width="1.4" stroke-linejoin="round"/>
<polygon points="356.1,246.0 371.7,239.8 356.9,225.0 341.3,231.0" fill="rgb(195,195,195)" stroke="#282828" stroke-width="1.4" stroke-linejoin="round"/>
<polygon points="249.2,206.7 265.6,201.3 251.3,189.0 234.9,194.3" fill="rgb(194,194,194)" stroke="#282828" stroke-width="1.4" stroke-linejoin="round"/>
<polygon points="646.4,341.5 660.0,342.2 643.4,338.6 629.8,337.8" fill="rgb(56,56,56)" stroke="#282828" stroke-width="1.4" stroke-linejoin="round"/>
<polygon points="432.4,277.9 447.5,273.3 432.4,259.3 417.2,263.8" fill="rgb(190,190,190)" stroke="#282828" stroke-width="1.4" stroke-linejoin="round"/>
<polygon points="508.8,307.7 523.4,305.5 507.9,293.8 493.2,295.9" fill="rgb(134,134,134)" stroke="#282828" stroke-width="1.4" stroke-linejoin="round"/>
<polygon points="325.4,237.6 341.3,231.0 326.5,216.3 310.7,222.7" fill="rgb(194,194,194)" stroke="#282828" stroke-width="1.4" stroke-linejoin="round"/>
<polygon points="218.3,198.2 234.9,194.3 220.8,183.4 204.2,187.1" fill="rgb(193,193,193)" stroke="#282828" stroke-width="1.4" stroke-linejoin="round"/>
<polygon points="616.0,337.5 629.8,337.8 613.5,332.1 599.7,331.6" fill="rgb(70,70,70)" stroke="#282828" stroke-width="1.4" stroke-linejoin="round"/>
<polygon points="401.8,269.4 417.2,263.8 402.1,249.3 386.7,254.7" fill="rgb(194,194,194)" stroke="#282828" stroke-width="1.4" stroke-linejoin="round"/>
<polygon points="585.6,331.9 599.7,331.6 583.6,324.0 569.5,324.2" fill="rgb(77,77,77)" stroke="#282828" stroke-width="1.4" stroke-linejoin="round"/>
<polygon points="187.3,188.6 204.2,187.1 190.3,177.9 173.4,179.4" fill="rgb(193,193,193)" stroke="#282828" stroke-width="1.4" stroke-linejoin="round"/>
<polygon points="294.6,229.2 310.7,222.7 296.1,208.5 280.0,214.8" fill="rgb(194,194,194)" stroke="#282828" stroke-width="1.4" stroke-linejoin="round"/>
<polygon points="478.3,299.4 493.2,295.9 477.8,283.3 462.8,286.7" fill="rgb(158,158,158)" stroke="#282828" stroke-width="1.4" stroke-linejoin="round"/>
<polygon points="371.1,261.1 386.7,254.7 371.7,239.8 356.1,246.0" fill="rgb(194,194,194)" stroke="#282828" stroke-width="1.4" stroke-linejoin="round"/>
<polygon points="555.1,325.4 569.5,324.2 553.6,315.0 539.2,316.1" fill="rgb(99,99,99)" stroke="#282828" stroke-width="1.4" stroke-linejoin="round"/>
<polygon points="263.7,220.4 280.0,214.8 265.6,201.3 249.2,206.7" fill="rgb(194,194,194)" stroke="#282828" stroke-width="1.4" stroke-linejoin="round"/>
<polygon points="447.7,291.4 462.8,286.7 447.5,273.3 432.4,277.9" fill="rgb(177,177,177)" stroke="#282828" stroke-width="1.4" stroke-linejoin="round"/>
<polygon points="340.3,252.8 356.1,246.0 341.3,231.0 325.4,237.6" fill="rgb(194,194,194)" stroke="#282828" stroke-width="1.4" stroke-linejoin="round"/>
<polygon points="524.6,318.4 539.2,316.1 523.4,305.5 508.8,307.7" fill="rgb(116,116,116)" stroke="#282828" stroke-width="1.4" stroke-linejoin="round"/>
<polygon points="232.7,210.8 249.2,206.7 234.9,194.3 218.3,198.2" fill="rgb(193,193,193)" stroke="#282828" stroke-width="1.4" stroke-linejoin="round"/>
<polygon points="694.1,342.5 707.3,343.6 690.1,344.6 676.8,343.6" fill="rgb(41,41,41)" stroke="#282828" stroke-width="1.4" stroke-linejoin="round"/>
<polygon points="417.0,283.6 432.4,277.9 417.2,263.8 401.8,269.4" fill="rgb(188,188,188)" stroke="#282828" stroke-width="1.4" stroke-linejoin="round"/>
<polygon points="663.3,342.9 676.8,343.6 660.0,342.2 646.4,341.5" fill="rgb(50,50,50)" stroke="#282828" stroke-width="1.4" stroke-linejoin="round"/>
<polygon points="309.4,244.3 325.4,237.6 310.7,222.7 294.6,229.2" fill="rgb(194,194,194)" stroke="#282828" stroke-width="1.4" stroke-linejoin="round"/>
<polygon points="632.7,341.2 646.4,341.5 629.8,337.8 616.0,337.5" fill="rgb(65,65,65)" stroke="#282828" stroke-width="1.4" stroke-linejoin="round"/>
<polygon points="493.9,311.3 508.8,307.7 493.2,295.9 478.3,299.4" fill="rgb(139,139,139)" stroke="#282828" stroke-width="1.4" stroke-linejoin="round"/>
<polygon points="201.4,199.8 218.3,198.2 204.2,187.1 187.3,188.6" fill="rgb(192,192,192)" stroke="#282828" stroke-width="1.4" stroke-linejoin="round"/>
<polygon points="386.2,275.9 401.8,269.4 386.7,254.7 371.1,261.1" fill="rgb(192,192,192)" stroke="#282828" stroke-width="1.4" stroke-linejoin="round"/>
<polygon points="602.0,337.8 616.0,337.5 599.7,331.6 585.6,331.9" fill="rgb(71,71,71)" stroke="#282828" stroke-width="1.4" stroke-linejoin="round"/>
<polygon points="278.3,235.1 294.6,229.2 280.0,214.8 263.7,220.4" fill="rgb(194,194,194)" stroke="#282828" stroke-width="1.4" stroke-linejoin="round"/>
<polygon points="463.2,304.3 478.3,299.4 462.8,286.7 447.7,291.4" fill="rgb(161,161,161)" stroke="#282828" stroke-width="1.4" stroke-linejoin="round"/>
<polygon points="355.3,268.1 371.1,261.1 356.1,246.0 340.3,252.8" fill="rgb(193,193,193)" stroke="#282828" stroke-width="1.4" stroke-linejoin="round"/>
<polygon points="170.0,187.1 187.3,188.6 173.4,179.4 156.1,177.8" fill="rgb(192,192,192)" stroke="#282828" stroke-width="1.4" stroke-linejoin="round"/>
<polygon points="571.3,333.2 585.6,331.9 569.5,324.2 555.1,325.4" fill="rgb(90,90,90)" stroke="#282828" stroke-width="1.4" stroke-linejoin="round"/>
<polygon points="247.2,224.7 263.7,220.4 249.2,206.7 232.7,210.8" fill="rgb(193,193,193)" stroke="#282828" stroke-width="1.4" stroke-linejoin="round"/>
<polygon points="432.4,297.3 447.7,291.4 432.4,277.9 417.0,283.6" fill="rgb(176,176,176)" stroke="#282828" stroke-width="1.4" stroke-linejoin="round"/>
<polygon points="540.6,327.8 555.1,325.4 539.2,316.1 524.6,318.4" fill="rgb(103,103,103)" stroke="#282828" stroke-width="1.4" stroke-linejoin="round"/>
<polygon points="324.3,259.7 340.3,252.8 325.4,237.6 309.4,244.3" fill="rgb(194,194,194)" stroke="#282828" stroke-width="1.4" stroke-linejoin="round"/>
<polygon points="401.4,290.3 417.0,283.6 401.8,269.4 386.2,275.9" fill="rgb(183,183,183)" stroke="#282828" stroke-width="1.4" stroke-linejoin="round"/>
<polygon points="215.8,212.6 232.7,210.8 218.3,198.2 201.4,199.8" fill="rgb(192,192,192)" stroke="#282828" stroke-width="1.4" stroke-linejoin="round"/>
<polygon points="509.7,322.0 524.6,318.4 508.8,307.7 493.9,311.3" fill="rgb(121,121,121)" stroke="#282828" stroke-width="1.4" stroke-linejoin="round"/>
<polygon points="293.1,250.4 309.4,244.3 294.6,229.2 278.3,235.1" fill="rgb(194,194,194)" stroke="#282828" stroke-width="1.4" stroke-linejoin="round"/>
<polygon points="680.6,341.6 694.1,342.5 676.8,343.6 663.3,342.9" fill="rgb(45,45,45)" stroke="#282828" stroke-width="1.4" stroke-linejoin="round"/>
<polygon points="649.6,342.5 663.3,342.9 646.4,341.5 632.7,341.2" fill="rgb(55,55,55)" stroke="#282828" stroke-width="1.4" stroke-linejoin="round"/>
<polygon points="370.4,283.1 386.2,275.9 371.1,261.1 355.3,268.1" fill="rgb(189,189,189)" stroke="#282828" stroke-width="1.4" stroke-linejoin="round"/>
<polygon points="478.9,316.2 493.9,311.3 478.3,299.4 463.2,304.3" fill="rgb(143,143,143)" stroke="#282828" stroke-width="1.4" stroke-linejoin="round"/>
<polygon points="618.7,341.5 632.7,341.2 616.0,337.5 602.0,337.8" fill="rgb(74,74,74)" stroke="#282828" stroke-width="1.4" stroke-linejoin="round"/>
<polygon points="184.2,198.5 201.4,199.8 187.3,188.6 170.0,187.1" fill="rgb(192,192,192)" stroke="#282828" stroke-width="1.4" stroke-linejoin="round"/>
<polygon points="261.8,239.5 278.3,235.1 263.7,220.4 247.2,224.7" fill="rgb(193,193,193)" stroke="#282828" stroke-width="1.4" stroke-linejoin="round"/>
<polygon points="587.7,339.1 602.0,337.8 585.6,331.9 571.3,333.2" fill="rgb(83,83,83)" stroke="#282828" stroke-width="1.4" stroke-linejoin="round"/>
<polygon points="447.9,310.3 463.2,304.3 447.7,291.4 432.4,297.3" fill="rgb(160,160,160)" stroke="#282828" stroke-width="1.4" stroke-linejoin="round"/>
<polygon points="339.3,275.2 355.3,268.1 340.3,252.8 324.3,259.7" fill="rgb(191,191,191)" stroke="#282828" stroke-width="1.4" stroke-linejoin="round"/>
<polygon points="556.8,335.6 571.3,333.2 555.1,325.4 540.6,327.8" fill="rgb(90,90,90)" stroke="#282828" stroke-width="1.4" stroke-linejoin="round"/>
<polygon points="416.8,304.1 432.4,297.3 417.0,283.6 401.4,290.3" fill="rgb(169,169,169)" stroke="#282828" stroke-width="1.4" stroke-linejoin="round"/>
<polygon points="230.3,226.7 247.2,224.7 232.7,210.8 215.8,212.6" fill="rgb(192,192,192)" stroke="#282828" stroke-width="1.4" stroke-linejoin="round"/>
<polygon points="152.3,181.8 170.0,187.1 156.1,177.8 138.3,172.4" fill="rgb(191,191,191)" stroke="#282828" stroke-width="1.4" stroke-linejoin="round"/>
<polygon points="308.0,266.0 324.3,259.7 309.4,244.3 293.1,250.4" fill="rgb(194,194,194)" stroke="#282828" stroke-width="1.4" stroke-linejoin="round"/>
<polygon points="525.8,331.5 540.6,327.8 524.6,318.4 509.7,322.0" fill="rgb(106,106,106)" stroke="#282828" stroke-width="1.4" stroke-linejoin="round"/>
<polygon points="385.7,297.6 401.4,290.3 386.2,275.9 370.4,283.1" fill="rgb(179,179,179)" stroke="#282828" stroke-width="1.4" stroke-linejoin="round"/>
<polygon points="494.7,327.1 509.7,322.0 493.9,311.3 478.9,316.2" fill="rgb(126,126,126)" stroke="#282828" stroke-width="1.4" stroke-linejoin="round"/>
<polygon points="276.6,255.0 293.1,250.4 278.3,235.1 261.8,239.5" fill="rgb(193,193,193)" stroke="#282828" stroke-width="1.4" stroke-linejoin="round"/>
<polygon points="198.5,211.4 215.8,212.6 201.4,199.8 184.2,198.5" fill="rgb(192,192,192)" stroke="#282828" stroke-width="1.4" stroke-linejoin="round"/>
<polygon points="354.4,290.3 370.4,283.1 355.3,268.1 339.3,275.2" fill="rgb(186,186,186)" stroke="#282828" stroke-width="1.4" stroke-linejoin="round"/>
<polygon points="463.6,322.3 478.9,316.2 463.2,304.3 447.9,310.3" fill="rgb(143,143,143)" stroke="#282828" stroke-width="1.4" stroke-linejoin="round"/>
<polygon points="666.9,341.1 680.6,341.6 663.3,342.9 649.6,342.5" fill="rgb(48,48,48)" stroke="#282828" stroke-width="1.4" stroke-linejoin="round"/>
<polygon points="635.6,342.8 649.6,342.5 632.7,341.2 618.7,341.5" fill="rgb(65,65,65)" stroke="#282828" stroke-width="1.4" stroke-linejoin="round"/>
<polygon points="245.0,241.7 261.8,239.5 247.2,224.7 230.3,226.7" fill="rgb(192,192,192)" stroke="#282828" stroke-width="1.4" stroke-linejoin="round"/>
<polygon points="604.4,342.8 618.7,341.5 602.0,337.8 587.7,339.1" fill="rgb(76,76,76)" stroke="#282828" stroke-width="1.4" stroke-linejoin="round"/>
<polygon points="432.4,317.1 447.9,310.3 432.4,297.3 416.8,304.1" fill="rgb(155,155,155)" stroke="#282828" stroke-width="1.4" stroke-linejoin="round"/>
<polygon points="323.1,281.5 339.3,275.2 324.3,259.7 308.0,266.0" fill="rgb(191,191,191)" stroke="#282828" stroke-width="1.4" stroke-linejoin="round"/>
<polygon points="166.5,193.2 184.2,198.5 170.0,187.1 152.3,181.8" fill="rgb(192,192,192)" stroke="#282828" stroke-width="1.4" stroke-linejoin="round"/>
<polygon points="573.2,341.6 587.7,339.1 571.3,333.2 556.8,335.6" fill="rgb(92,92,92)" stroke="#282828" stroke-width="1.4" stroke-linejoin="round"/>
<polygon points="401.1,311.4 416.8,304.1 401.4,290.3 385.7,297.6" fill="rgb(163,163,163)" stroke="#282828" stroke-width="1.4" stroke-linejoin="round"/>
<polygon points="542.0,339.5 556.8,335.6 540.6,327.8 525.8,331.5" fill="rgb(96,96,96)" stroke="#282828" stroke-width="1.4" stroke-linejoin="round"/>
<polygon points="291.6,270.8 308.0,266.0 293.1,250.4 276.6,255.0" fill="rgb(193,193,193)" stroke="#282828" stroke-width="1.4" stroke-linejoin="round"/>
<polygon points="213.1,225.7 230.3,226.7 215.8,212.6 198.5,211.4" fill="rgb(191,191,191)" stroke="#282828" stroke-width="1.4" stroke-linejoin="round"/>
<polygon points="510.7,336.7 525.8,331.5 509.7,322.0 494.7,327.1" fill="rgb(109,109,109)" stroke="#282828" stroke-width="1.4" stroke-linejoin="round"/>
<polygon points="369.7,304.8 385.7,297.6 370.4,283.1 354.4,290.3" fill="rgb(177,177,177)" stroke="#282828" stroke-width="1.4" stroke-linejoin="round"/>
<polygon points="479.4,333.3 494.7,327.1 478.9,316.2 463.6,322.3" fill="rgb(127,127,127)" stroke="#282828" stroke-width="1.4" stroke-linejoin="round"/>
<polygon points="134.0,171.6 152.3,181.8 138.3,172.4 120.0,162.2" fill="rgb(198,198,198)" stroke="#282828" stroke-width="1.4" stroke-linejoin="round"/>
<polygon points="259.8,257.4 276.6,255.0 261.8,239.5 245.0,241.7" fill="rgb(192,192,192)" stroke="#282828" stroke-width="1.4" stroke-linejoin="round"/>
<polygon points="338.3,296.7 354.4,290.3 339.3,275.2 323.1,281.5" fill="rgb(185,185,185)" stroke="#282828" stroke-width="1.4" stroke-linejoin="round"/>
<polygon points="448.1,329.2 463.6,322.3 447.9,310.3 432.4,317.1" fill="rgb(139,139,139)" stroke="#282828" stroke-width="1.4" stroke-linejoin="round"/>
<polygon points="180.9,206.3 198.5,211.4 184.2,198.5 166.5,193.2" fill="rgb(192,192,192)" stroke="#282828" stroke-width="1.4" stroke-linejoin="round"/>
<polygon points="416.7,324.5 432.4,317.1 416.8,304.1 401.1,311.4" fill="rgb(151,151,151)" stroke="#282828" stroke-width="1.4" stroke-linejoin="round"/>
<polygon points="306.6,286.5 323.1,281.5 308.0,266.0 291.6,270.8" fill="rgb(192,192,192)" stroke="#282828" stroke-width="1.4" stroke-linejoin="round"/>
<polygon points="653.0,341.2 666.9,341.1 649.6,342.5 635.6,342.8" fill="rgb(54,54,54)" stroke="#282828" stroke-width="1.4" stroke-linejoin="round"/>
<polygon points="621.4,344.0 635.6,342.8 618.7,341.5 604.4,342.8" fill="rgb(74,74,74)" stroke="#282828" stroke-width="1.4" stroke-linejoin="round"/>
<polygon points="227.8,240.9 245.0,241.7 230.3,226.7 213.1,225.7" fill="rgb(191,191,191)" stroke="#282828" stroke-width="1.4" stroke-linejoin="round"/>
<polygon points="589.9,345.3 604.4,342.8 587.7,339.1 573.2,341.6" fill="rgb(88,88,88)" stroke="#282828" stroke-width="1.4" stroke-linejoin="round"/>
<polygon points="385.2,318.7 401.1,311.4 385.7,297.6 369.7,304.8" fill="rgb(162,162,162)" stroke="#282828" stroke-width="1.4" stroke-linejoin="round"/>
<polygon points="558.4,345.5 573.2,341.6 556.8,335.6 542.0,339.5" fill="rgb(90,90,90)" stroke="#282828" stroke-width="1.4" stroke-linejoin="round"/>
<polygon points="527.0,344.7 542.0,339.5 525.8,331.5 510.7,336.7" fill="rgb(99,99,99)" stroke="#282828" stroke-width="1.4" stroke-linejoin="round"/>
<polygon points="274.8,273.3 291.6,270.8 276.6,255.0 259.8,257.4" fill="rgb(192,192,192)" stroke="#282828" stroke-width="1.4" stroke-linejoin="round"/>
<polygon points="353.6,311.3 369.7,304.8 354.4,290.3 338.3,296.7" fill="rgb(175,175,175)" stroke="#282828" stroke-width="1.4" stroke-linejoin="round"/>
<polygon points="495.5,342.9 510.7,336.7 494.7,327.1 479.4,333.3" fill="rgb(111,111,111)" stroke="#282828" stroke-width="1.4" stroke-linejoin="round"/>
<polygon points="148.3,183.1 166.5,193.2 152.3,181.8 134.0,171.6" fill="rgb(198,198,198)" stroke="#282828" stroke-width="1.4" stroke-linejoin="round"/>
<polygon points="463.9,340.2 479.4,333.3 463.6,322.3 448.1,329.2" fill="rgb(124,124,124)" stroke="#282828" stroke-width="1.4" stroke-linejoin="round"/>
<polygon points="195.5,220.7 213.1,225.7 198.5,211.4 180.9,206.3" fill="rgb(191,191,191)" stroke="#282828" stroke-width="1.4" stroke-linejoin="round"/>
<polygon points="321.8,301.7 338.3,296.7 323.1,281.5 306.6,286.5" fill="rgb(185,185,185)" stroke="#282828" stroke-width="1.4" stroke-linejoin="round"/>
<polygon points="432.4,336.6 448.1,329.2 432.4,317.1 416.7,324.5" fill="rgb(134,134,134)" stroke="#282828" stroke-width="1.4" stroke-linejoin="round"/>
<polygon points="242.7,256.7 259.8,257.4 245.0,241.7 227.8,240.9" fill="rgb(191,191,191)" stroke="#282828" stroke-width="1.4" stroke-linejoin="round"/>
<polygon points="400.7,331.8 416.7,324.5 401.1,311.4 385.2,318.7" fill="rgb(150,150,150)" stroke="#282828" stroke-width="1.4" stroke-linejoin="round"/>
<polygon points="289.9,289.1 306.6,286.5 291.6,270.8 274.8,273.3" fill="rgb(191,191,191)" stroke="#282828" stroke-width="1.4" stroke-linejoin="round"/>
<polygon points="369.0,325.2 385.2,318.7 369.7,304.8 353.6,311.3" fill="rgb(159,159,159)" stroke="#282828" stroke-width="1.4" stroke-linejoin="round"/>
<polygon points="606.9,346.4 621.4,344.0 604.4,342.8 589.9,345.3" fill="rgb(79,79,79)" stroke="#282828" stroke-width="1.4" stroke-linejoin="round"/>
<polygon points="638.8,342.3 653.0,341.2 635.6,342.8 621.4,344.0" fill="rgb(63,63,63)" stroke="#282828" stroke-width="1.4" stroke-linejoin="round"/>
<polygon points="575.2,349.2 589.9,345.3 573.2,341.6 558.4,345.5" fill="rgb(95,95,95)" stroke="#282828" stroke-width="1.4" stroke-linejoin="round"/>
<polygon points="162.7,196.3 180.9,206.3 166.5,193.2 148.3,183.1" fill="rgb(198,198,198)" stroke="#282828" stroke-width="1.4" stroke-linejoin="round"/>
<polygon points="543.4,350.7 558.4,345.5 542.0,339.5 527.0,344.7" fill="rgb(94,94,94)" stroke="#282828" stroke-width="1.4" stroke-linejoin="round"/>
<polygon points="511.7,351.0 527.0,344.7 510.7,336.7 495.5,342.9" fill="rgb(100,100,100)" stroke="#282828" stroke-width="1.4" stroke-linejoin="round"/>
<polygon points="210.2,236.1 227.8,240.9 213.1,225.7 195.5,220.7" fill="rgb(190,190,190)" stroke="#282828" stroke-width="1.4" stroke-linejoin="round"/>
<polygon points="337.2,316.4 353.6,311.3 338.3,296.7 321.8,301.7" fill="rgb(175,175,175)" stroke="#282828" stroke-width="1.4" stroke-linejoin="round"/>
<polygon points="480.0,350.0 495.5,342.9 479.4,333.3 463.9,340.2" fill="rgb(110,110,110)" stroke="#282828" stroke-width="1.4" stroke-linejoin="round"/>
<polygon points="257.7,272.8 274.8,273.3 259.8,257.4 242.7,256.7" fill="rgb(191,191,191)" stroke="#282828" stroke-width="1.4" stroke-linejoin="round"/>
<polygon points="448.3,347.7 463.9,340.2 448.1,329.2 432.4,336.6" fill="rgb(120,120,120)" stroke="#282828" stroke-width="1.4" stroke-linejoin="round"/>
<polygon points="416.5,343.9 432.4,336.6 416.7,324.5 400.7,331.8" fill="rgb(132,132,132)" stroke="#282828" stroke-width="1.4" stroke-linejoin="round"/>
<polygon points="305.1,304.4 321.8,301.7 306.6,286.5 289.9,289.1" fill="rgb(187,187,187)" stroke="#282828" stroke-width="1.4" stroke-linejoin="round"/>
<polygon points="384.6,338.3 400.7,331.8 385.2,318.7 369.0,325.2" fill="rgb(138,138,138)" stroke="#282828" stroke-width="1.4" stroke-linejoin="round"/>
<polygon points="177.4,210.8 195.5,220.7 180.9,206.3 162.7,196.3" fill="rgb(198,198,198)" stroke="#282828" stroke-width="1.4" stroke-linejoin="round"/>
<polygon points="225.2,252.0 242.7,256.7 227.8,240.9 210.2,236.1" fill="rgb(190,190,190)" stroke="#282828" stroke-width="1.4" stroke-linejoin="round"/>
<polygon points="352.6,330.3 369.0,325.2 353.6,311.3 337.2,316.4" fill="rgb(160,160,160)" stroke="#282828" stroke-width="1.4" stroke-linejoin="round"/>
<polygon points="272.9,288.6 289.9,289.1 274.8,273.3 257.7,272.8" fill="rgb(190,190,190)" stroke="#282828" stroke-width="1.4" stroke-linejoin="round"/>
<polygon points="560.2,354.4 575.2,349.2 558.4,345.5 543.4,350.7" fill="rgb(94,94,94)" stroke="#282828" stroke-width="1.4" stroke-linejoin="round"/>
<polygon points="592.2,350.2 606.9,346.4 589.9,345.3 575.2,349.2" fill="rgb(90,90,90)" stroke="#282828" stroke-width="1.4" stroke-linejoin="round"/>
<polygon points="528.2,357.1 543.4,350.7 527.0,344.7 511.7,351.0" fill="rgb(96,96,96)" stroke="#282828" stroke-width="1.4" stroke-linejoin="round"/>
<polygon points="624.3,344.4 638.8,342.3 621.4,344.0 606.9,346.4" fill="rgb(74,74,74)" stroke="#282828" stroke-width="1.4" stroke-linejoin="round"/>
<polygon points="496.3,358.1 511.7,351.0 495.5,342.9 480.0,350.0" fill="rgb(99,99,99)" stroke="#282828" stroke-width="1.4" stroke-linejoin="round"/>
<polygon points="464.3,357.4 480.0,350.0 463.9,340.2 448.3,347.7" fill="rgb(106,106,106)" stroke="#282828" stroke-width="1.4" stroke-linejoin="round"/>
<polygon points="320.5,319.1 337.2,316.4 321.8,301.7 305.1,304.4" fill="rgb(180,180,180)" stroke="#282828" stroke-width="1.4" stroke-linejoin="round"/>
<polygon points="432.4,355.0 448.3,347.7 432.4,336.6 416.5,343.9" fill="rgb(119,119,119)" stroke="#282828" stroke-width="1.4" stroke-linejoin="round"/>
<polygon points="192.2,226.3 210.2,236.1 195.5,220.7 177.4,210.8" fill="rgb(198,198,198)" stroke="#282828" stroke-width="1.4" stroke-linejoin="round"/>
<polygon points="400.4,350.4 416.5,343.9 400.7,331.8 384.6,338.3" fill="rgb(132,132,132)" stroke="#282828" stroke-width="1.4" stroke-linejoin="round"/>
<polygon points="240.2,268.2 257.7,272.8 242.7,256.7 225.2,252.0" fill="rgb(190,190,190)" stroke="#282828" stroke-width="1.4" stroke-linejoin="round"/>
<polygon points="288.1,304.0 305.1,304.4 289.9,289.1 272.9,288.6" fill="rgb(188,188,188)" stroke="#282828" stroke-width="1.4" stroke-linejoin="round"/>
<polygon points="368.3,343.3 384.6,338.3 369.0,325.2 352.6,330.3" fill="rgb(138,138,138)" stroke="#282828" stroke-width="1.4" stroke-linejoin="round"/>
<polygon points="336.0,333.0 352.6,330.3 337.2,316.4 320.5,319.1" fill="rgb(168,168,168)" stroke="#282828" stroke-width="1.4" stroke-linejoin="round"/>
<polygon points="512.8,364.2 528.2,357.1 511.7,351.0 496.3,358.1" fill="rgb(94,94,94)" stroke="#282828" stroke-width="1.4" stroke-linejoin="round"/>
<polygon points="545.0,360.8 560.2,354.4 543.4,350.7 528.2,357.1" fill="rgb(96,96,96)" stroke="#282828" stroke-width="1.4" stroke-linejoin="round"/>
<polygon points="480.6,365.6 496.3,358.1 480.0,350.0 464.3,357.4" fill="rgb(97,97,97)" stroke="#282828" stroke-width="1.4" stroke-linejoin="round"/>
<polygon points="577.2,355.4 592.2,350.2 575.2,349.2 560.2,354.4" fill="rgb(97,97,97)" stroke="#282828" stroke-width="1.4" stroke-linejoin="round"/>
<polygon points="207.2,242.4 225.2,252.0 210.2,236.1 192.2,226.3" fill="rgb(198,198,198)" stroke="#282828" stroke-width="1.4" stroke-linejoin="round"/>
<polygon points="448.5,364.7 464.3,357.4 448.3,347.7 432.4,355.0" fill="rgb(103,103,103)" stroke="#282828" stroke-width="1.4" stroke-linejoin="round"/>
<polygon points="609.6,348.1 624.3,344.4 606.9,346.4 592.2,350.2" fill="rgb(81,81,81)" stroke="#282828" stroke-width="1.4" stroke-linejoin="round"/>
<polygon points="255.4,284.1 272.9,288.6 257.7,272.8 240.2,268.2" fill="rgb(189,189,189)" stroke="#282828" stroke-width="1.4" stroke-linejoin="round"/>
<polygon points="416.3,361.5 432.4,355.0 416.5,343.9 400.4,350.4" fill="rgb(119,119,119)" stroke="#282828" stroke-width="1.4" stroke-linejoin="round"/>
<polygon points="303.5,318.7 320.5,319.1 305.1,304.4 288.1,304.0" fill="rgb(185,185,185)" stroke="#282828" stroke-width="1.4" stroke-linejoin="round"/>
<polygon points="384.0,355.4 400.4,350.4 384.6,338.3 368.3,343.3" fill="rgb(125,125,125)" stroke="#282828" stroke-width="1.4" stroke-linejoin="round"/>
<polygon points="351.6,346.0 368.3,343.3 352.6,330.3 336.0,333.0" fill="rgb(153,153,153)" stroke="#282828" stroke-width="1.4" stroke-linejoin="round"/>
<polygon points="222.3,258.6 240.2,268.2 225.2,252.0 207.2,242.4" fill="rgb(198,198,198)" stroke="#282828" stroke-width="1.4" stroke-linejoin="round"/>
<polygon points="270.7,299.5 288.1,304.0 272.9,288.6 255.4,284.1" fill="rgb(188,188,188)" stroke="#282828" stroke-width="1.4" stroke-linejoin="round"/>
<polygon points="497.1,371.7 512.8,364.2 496.3,358.1 480.6,365.6" fill="rgb(91,91,91)" stroke="#282828" stroke-width="1.4" stroke-linejoin="round"/>
<polygon points="529.5,368.0 545.0,360.8 528.2,357.1 512.8,364.2" fill="rgb(95,95,95)" stroke="#282828" stroke-width="1.4" stroke-linejoin="round"/>
<polygon points="464.8,372.9 480.6,365.6 464.3,357.4 448.5,364.7" fill="rgb(95,95,95)" stroke="#282828" stroke-width="1.4" stroke-linejoin="round"/>
<polygon points="562.0,361.8 577.2,355.4 560.2,354.4 545.0,360.8" fill="rgb(96,96,96)" stroke="#282828" stroke-width="1.4" stroke-linejoin="round"/>
<polygon points="319.0,332.5 336.0,333.0 320.5,319.1 303.5,318.7" fill="rgb(181,181,181)" stroke="#282828" stroke-width="1.4" stroke-linejoin="round"/>
<polygon points="432.4,371.2 448.5,364.7 432.4,355.0 416.3,361.5" fill="rgb(104,104,104)" stroke="#282828" stroke-width="1.4" stroke-linejoin="round"/>
<polygon points="594.7,353.1 609.6,348.1 592.2,350.2 577.2,355.4" fill="rgb(90,90,90)" stroke="#282828" stroke-width="1.4" stroke-linejoin="round"/>
<polygon points="400.0,366.5 416.3,361.5 400.4,350.4 384.0,355.4" fill="rgb(119,119,119)" stroke="#282828" stroke-width="1.4" stroke-linejoin="round"/>
<polygon points="237.5,274.6 255.4,284.1 240.2,268.2 222.3,258.6" fill="rgb(198,198,198)" stroke="#282828" stroke-width="1.4" stroke-linejoin="round"/>
<polygon points="367.4,358.1 384.0,355.4 368.3,343.3 351.6,346.0" fill="rgb(132,132,132)" stroke="#282828" stroke-width="1.4" stroke-linejoin="round"/>
<polygon points="286.2,314.2 303.5,318.7 288.1,304.0 270.7,299.5" fill="rgb(188,188,188)" stroke="#282828" stroke-width="1.4" stroke-linejoin="round"/>
<polygon points="334.7,345.6 351.6,346.0 336.0,333.0 319.0,332.5" fill="rgb(175,175,175)" stroke="#282828" stroke-width="1.4" stroke-linejoin="round"/>
<polygon points="481.3,379.1 497.1,371.7 480.6,365.6 464.8,372.9" fill="rgb(91,91,91)" stroke="#282828" stroke-width="1.4" stroke-linejoin="round"/>
<polygon points="513.9,375.5 529.5,368.0 512.8,364.2 497.1,371.7" fill="rgb(92,92,92)" stroke="#282828" stroke-width="1.4" stroke-linejoin="round"/>
<polygon points="448.7,379.5 464.8,372.9 448.5,364.7 432.4,371.2" fill="rgb(94,94,94)" stroke="#282828" stroke-width="1.4" stroke-linejoin="round"/>
<polygon points="546.6,368.9 562.0,361.8 545.0,360.8 529.5,368.0" fill="rgb(96,96,96)" stroke="#282828" stroke-width="1.4" stroke-linejoin="round"/>
<polygon points="416.1,376.3 432.4,371.2 416.3,361.5 400.0,366.5" fill="rgb(106,106,106)" stroke="#282828" stroke-width="1.4" stroke-linejoin="round"/>
<polygon points="252.9,290.0 270.7,299.5 255.4,284.1 237.5,274.6" fill="rgb(198,198,198)" stroke="#282828" stroke-width="1.4" stroke-linejoin="round"/>
<polygon points="579.4,359.4 594.7,353.1 577.2,355.4 562.0,361.8" fill="rgb(98,98,98)" stroke="#282828" stroke-width="1.4" stroke-linejoin="round"/>
<polygon points="301.7,328.0 319.0,332.5 303.5,318.7 286.2,314.2" fill="rgb(187,187,187)" stroke="#282828" stroke-width="1.4" stroke-linejoin="round"/>
<polygon points="383.4,369.2 400.0,366.5 384.0,355.4 367.4,358.1" fill="rgb(121,121,121)" stroke="#282828" stroke-width="1.4" stroke-linejoin="round"/>
<polygon points="350.6,357.7 367.4,358.1 351.6,346.0 334.7,345.6" fill="rgb(162,162,162)" stroke="#282828" stroke-width="1.4" stroke-linejoin="round"/>
<polygon points="268.4,304.6 286.2,314.2 270.7,299.5 252.9,290.0" fill="rgb(198,198,198)" stroke="#282828" stroke-width="1.4" stroke-linejoin="round"/>
<polygon points="465.2,385.8 481.3,379.1 464.8,372.9 448.7,379.5" fill="rgb(93,93,93)" stroke="#282828" stroke-width="1.4" stroke-linejoin="round"/>
<polygon points="498.0,383.0 513.9,375.5 497.1,371.7 481.3,379.1" fill="rgb(90,90,90)" stroke="#282828" stroke-width="1.4" stroke-linejoin="round"/>
<polygon points="432.4,384.6 448.7,379.5 432.4,371.2 416.1,376.3" fill="rgb(98,98,98)" stroke="#282828" stroke-width="1.4" stroke-linejoin="round"/>
<polygon points="531.0,376.5 546.6,368.9 529.5,368.0 513.9,375.5" fill="rgb(95,95,95)" stroke="#282828" stroke-width="1.4" stroke-linejoin="round"/>
<polygon points="317.5,341.1 334.7,345.6 319.0,332.5 301.7,328.0" fill="rgb(187,187,187)" stroke="#282828" stroke-width="1.4" stroke-linejoin="round"/>
<polygon points="564.0,366.5 579.4,359.4 562.0,361.8 546.6,368.9" fill="rgb(98,98,98)" stroke="#282828" stroke-width="1.4" stroke-linejoin="round"/>
<polygon points="399.5,379.1 416.1,376.3 400.0,366.5 383.4,369.2" fill="rgb(107,107,107)" stroke="#282828" stroke-width="1.4" stroke-linejoin="round"/>
<polygon points="366.6,368.8 383.4,369.2 367.4,358.1 350.6,357.7" fill="rgb(151,151,151)" stroke="#282828" stroke-width="1.4" stroke-linejoin="round"/>
<polygon points="284.0,318.5 301.7,328.0 286.2,314.2 268.4,304.6" fill="rgb(198,198,198)" stroke="#282828" stroke-width="1.4" stroke-linejoin="round"/>
<polygon points="333.3,353.2 350.6,357.7 334.7,345.6 317.5,341.1" fill="rgb(184,184,184)" stroke="#282828" stroke-width="1.4" stroke-linejoin="round"/>
<polygon points="482.0,389.8 498.0,383.0 481.3,379.1 465.2,385.8" fill="rgb(92,92,92)" stroke="#282828" stroke-width="1.4" stroke-linejoin="round"/>
<polygon points="448.9,391.1 465.2,385.8 448.7,379.5 432.4,384.6" fill="rgb(94,94,94)" stroke="#282828" stroke-width="1.4" stroke-linejoin="round"/>
<polygon points="515.1,384.0 531.0,376.5 513.9,375.5 498.0,383.0" fill="rgb(92,92,92)" stroke="#282828" stroke-width="1.4" stroke-linejoin="round"/>
<polygon points="415.9,387.6 432.4,384.6 416.1,376.3 399.5,379.1" fill="rgb(102,102,102)" stroke="#282828" stroke-width="1.4" stroke-linejoin="round"/>
<polygon points="548.4,374.1 564.0,366.5 546.6,368.9 531.0,376.5" fill="rgb(97,97,97)" stroke="#282828" stroke-width="1.4" stroke-linejoin="round"/>
<polygon points="382.7,378.9 399.5,379.1 383.4,369.2 366.6,368.8" fill="rgb(123,123,123)" stroke="#282828" stroke-width="1.4" stroke-linejoin="round"/>
<polygon points="299.8,331.6 317.5,341.1 301.7,328.0 284.0,318.5" fill="rgb(198,198,198)" stroke="#282828" stroke-width="1.4" stroke-linejoin="round"/>
<polygon points="349.4,364.5 366.6,368.8 350.6,357.7 333.3,353.2" fill="rgb(178,178,178)" stroke="#282828" stroke-width="1.4" stroke-linejoin="round"/>
<polygon points="465.7,395.3 482.0,389.8 465.2,385.8 448.9,391.1" fill="rgb(95,95,95)" stroke="#282828" stroke-width="1.4" stroke-linejoin="round"/>
<polygon points="499.0,391.0 515.1,384.0 498.0,383.0 482.0,389.8" fill="rgb(91,91,91)" stroke="#282828" stroke-width="1.4" stroke-linejoin="round"/>
<polygon points="432.4,394.3 448.9,391.1 432.4,384.6 415.9,387.6" fill="rgb(98,98,98)" stroke="#282828" stroke-width="1.4" stroke-linejoin="round"/>
<polygon points="532.5,381.7 548.4,374.1 531.0,376.5 515.1,384.0" fill="rgb(95,95,95)" stroke="#282828" stroke-width="1.4" stroke-linejoin="round"/>
<polygon points="399.1,387.6 415.9,387.6 399.5,379.1 382.7,378.9" fill="rgb(108,108,108)" stroke="#282828" stroke-width="1.4" stroke-linejoin="round"/>
<polygon points="315.7,343.8 333.3,353.2 317.5,341.1 299.8,331.6" fill="rgb(198,198,198)" stroke="#282828" stroke-width="1.4" stroke-linejoin="round"/>
<polygon points="365.6,374.8 382.7,378.9 366.6,368.8 349.4,364.5" fill="rgb(164,164,164)" stroke="#282828" stroke-width="1.4" stroke-linejoin="round"/>
<polygon points="482.8,396.8 499.0,391.0 482.0,389.8 465.7,395.3" fill="rgb(94,94,94)" stroke="#282828" stroke-width="1.4" stroke-linejoin="round"/>
<polygon points="449.2,398.8 465.7,395.3 448.9,391.1 432.4,394.3" fill="rgb(97,97,97)" stroke="#282828" stroke-width="1.4" stroke-linejoin="round"/>
<polygon points="331.8,355.3 349.4,364.5 333.3,353.2 315.7,343.8" fill="rgb(198,198,198)" stroke="#282828" stroke-width="1.4" stroke-linejoin="round"/>
<polygon points="516.4,388.9 532.5,381.7 515.1,384.0 499.0,391.0" fill="rgb(105,105,105)" stroke="#282828" stroke-width="1.4" stroke-linejoin="round"/>
<polygon points="415.7,394.7 432.4,394.3 415.9,387.6 399.1,387.6" fill="rgb(103,103,103)" stroke="#282828" stroke-width="1.4" stroke-linejoin="round"/>
<polygon points="382.0,384.0 399.1,387.6 382.7,378.9 365.6,374.8" fill="rgb(130,130,130)" stroke="#282828" stroke-width="1.4" stroke-linejoin="round"/>
<polygon points="348.1,366.0 365.6,374.8 349.4,364.5 331.8,355.3" fill="rgb(198,198,198)" stroke="#282828" stroke-width="1.4" stroke-linejoin="round"/>
<polygon points="466.3,400.8 482.8,396.8 465.7,395.3 449.2,398.8" fill="rgb(97,97,97)" stroke="#282828" stroke-width="1.4" stroke-linejoin="round"/>
<polygon points="432.5,399.8 449.2,398.8 432.4,394.3 415.7,394.7" fill="rgb(100,100,100)" stroke="#282828" stroke-width="1.4" stroke-linejoin="round"/>
<polygon points="500.1,395.1 516.4,388.9 499.0,391.0 482.8,396.8" fill="rgb(125,125,125)" stroke="#282828" stroke-width="1.4" stroke-linejoin="round"/>
<polygon points="398.6,391.6 415.7,394.7 399.1,387.6 382.0,384.0" fill="rgb(112,112,112)" stroke="#282828" stroke-width="1.4" stroke-linejoin="round"/>
<polygon points="364.5,375.7 382.0,384.0 365.6,374.8 348.1,366.0" fill="rgb(198,198,198)" stroke="#282828" stroke-width="1.4" stroke-linejoin="round"/>
<polygon points="449.5,402.5 466.3,400.8 449.2,398.8 432.5,399.8" fill="rgb(98,98,98)" stroke="#282828" stroke-width="1.4" stroke-linejoin="round"/>
<polygon points="483.6,399.8 500.1,395.1 482.8,396.8 466.3,400.8" fill="rgb(145,145,145)" stroke="#282828" stroke-width="1.4" stroke-linejoin="round"/>
<polygon points="415.4,397.4 432.5,399.8 415.7,394.7 398.6,391.6" fill="rgb(105,105,105)" stroke="#282828" stroke-width="1.4" stroke-linejoin="round"/>
<polygon points="381.2,384.1 398.6,391.6 382.0,384.0 364.5,375.7" fill="rgb(198,198,198)" stroke="#282828" stroke-width="1.4" stroke-linejoin="round"/>
<polygon points="466.8,402.3 483.6,399.8 466.3,400.8 449.5,402.5" fill="rgb(165,165,165)" stroke="#282828" stroke-width="1.4" stroke-linejoin="round"/>
<polygon points="432.5,401.1 449.5,402.5 432.5,399.8 415.4,397.4" fill="rgb(101,101,101)" stroke="#282828" stroke-width="1.4" stroke-linejoin="round"/>
<polygon points="398.1,391.0 415.4,397.4 398.6,391.6 381.2,384.1" fill="rgb(198,198,198)" stroke="#282828" stroke-width="1.4" stroke-linejoin="round"/>
<polygon points="449.8,402.1 466.8,402.3 449.5,402.5 432.5,401.1" fill="rgb(185,185,185)" stroke="#282828" stroke-width="1.4" stroke-linejoin="round"/>
<polygon points="415.2,395.9 432.5,401.1 415.4,397.4 398.1,391.0" fill="rgb(198,198,198)" stroke="#282828" stroke-width="1.4" stroke-linejoin="round"/>
<polygon points="432.6,398.7 449.8,402.1 432.5,401.1 415.2,395.9" fill="rgb(205,205,205)" stroke="#282828" stroke-width="1.4" stroke-linejoin="round"/>
<circle cx="118" cy="122" r="5.2" fill="#1c1c1c"/>
<circle cx="118.1" cy="133.3" r="5.2" fill="#1c1c1c"/>
<circle cx="431.3" cy="146.8" r="5.2" fill="#1c1c1c"/>
<circle cx="733.5" cy="325.4" r="5.2" fill="#1c1c1c"/>
<circle cx="733" cy="337.9" r="5.2" fill="#1c1c1c"/>
<circle cx="430.3" cy="378" r="5.2" fill="#1c1c1c"/>
<circle cx="119.6" cy="169.4" r="4.5" fill="#dadada" stroke="#2a2a2a" stroke-width="1.5"/>
<circle cx="120.5" cy="177.6" r="4.5" fill="#dadada" stroke="#2a2a2a" stroke-width="1.5"/>
<circle cx="733" cy="343.7" r="4.5" fill="#dadada" stroke="#2a2a2a" stroke-width="1.5"/>
<circle cx="430.5" cy="386.5" r="4.5" fill="#dadada" stroke="#2a2a2a" stroke-width="1.5"/>
<circle cx="430.5" cy="393.5" r="4.5" fill="#dadada" stroke="#2a2a2a" stroke-width="1.5"/>
<circle cx="431" cy="276.7" r="4.7" fill="#d2d2d2" stroke="#141414" stroke-width="2"/>
<text x="75.3" y="93.1" text-anchor="middle" font-size="27.5">320</text>
<text x="78.5" y="166.4" text-anchor="middle" font-size="27.5">263</text>
<text x="82.2" y="240.2" text-anchor="middle" font-size="27.5">205</text>
<text x="86.8" y="311.7" text-anchor="middle" font-size="27.5">148</text>
<text x="97.4" y="386.4" text-anchor="middle" font-size="27.5">90</text>
<text x="102.1" y="478.1" text-anchor="middle" font-size="27.5">32</text>
<text x="175.9" y="510.8" text-anchor="middle" font-size="27.5">30</text>
<text x="249.5" y="545.7" text-anchor="middle" font-size="27.5">27</text>
<text x="323.9" y="579.0" text-anchor="middle" font-size="27.5">25</text>
<text x="397.8" y="611.6" text-anchor="middle" font-size="27.5">22</text>
<text x="473.8" y="612.5" text-anchor="middle" font-size="27.5">107</text>
<text x="547.6" y="578.9" text-anchor="middle" font-size="27.5">116</text>
<text x="621.7" y="545.3" text-anchor="middle" font-size="27.5">125</text>
<text x="695.0" y="511.0" text-anchor="middle" font-size="27.5">134</text>
<text x="768.9" y="478.8" text-anchor="middle" font-size="27.5">143</text>
<text transform="translate(38.1,370.5) rotate(-92.5) scale(0.867,1)" font-size="40">BD (Kg/ m<tspan font-size="25.5" dy="-11.9">3</tspan><tspan dy="11.9">)</tspan></text>
<text transform="translate(132.2,548) rotate(25.4)" font-size="36">Moisture %</text>
<text transform="translate(527.6,657.4) rotate(-27.3)" font-size="36.3">Temperature °C</text>
</svg>
</body></html>
